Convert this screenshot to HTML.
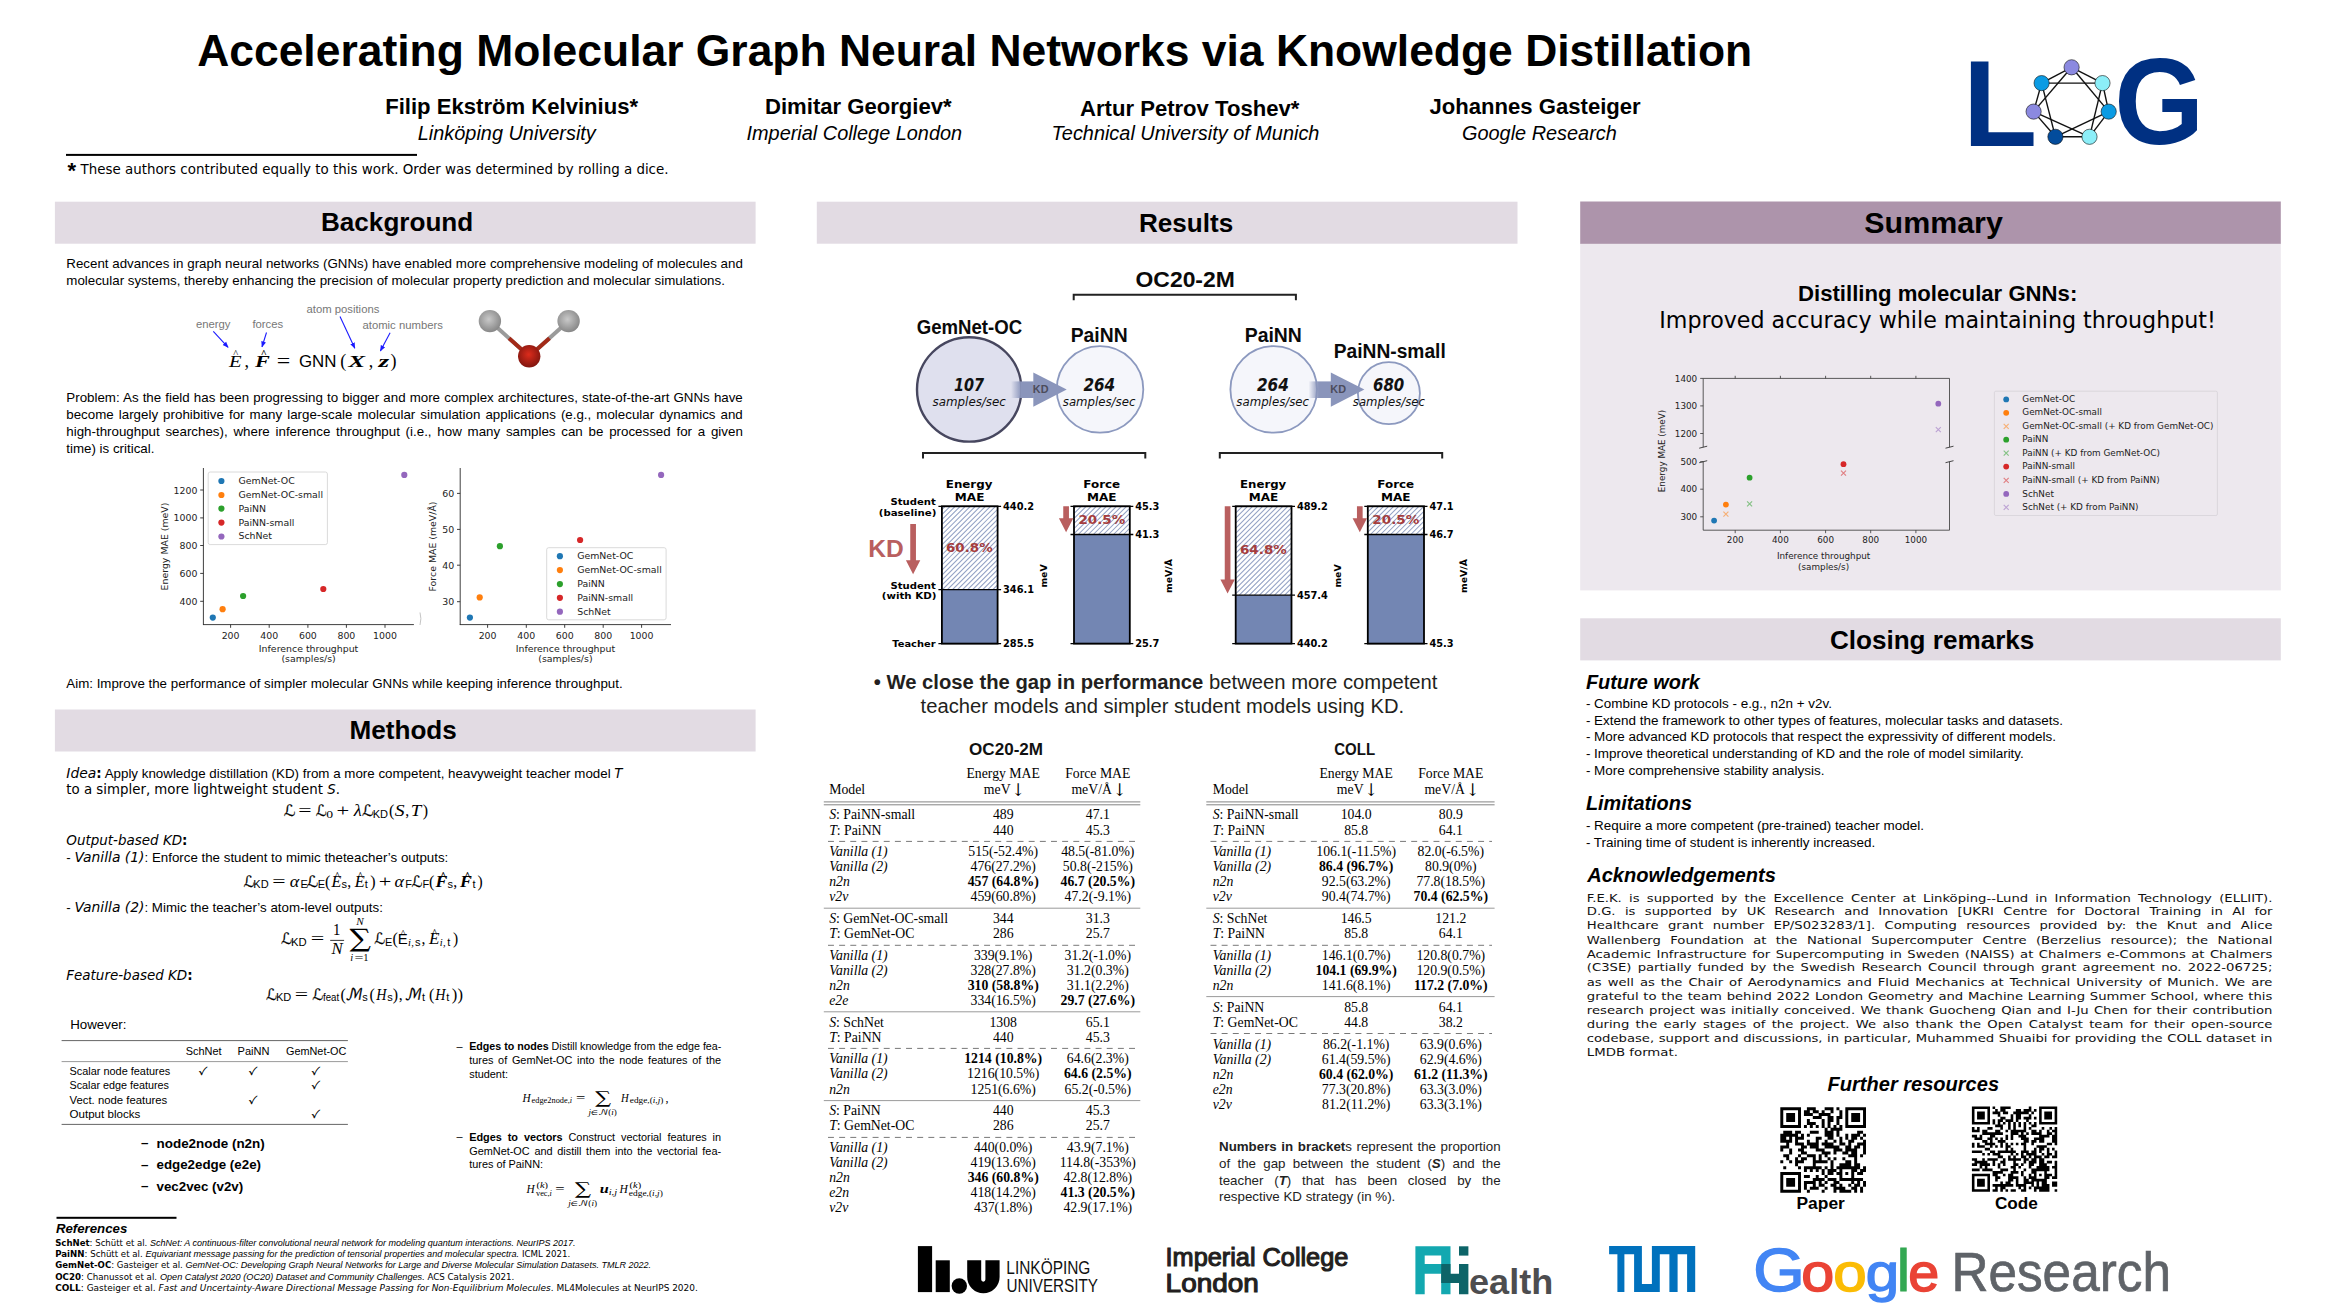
<!DOCTYPE html>
<html lang="en"><head><meta charset="utf-8"><title>Accelerating Molecular Graph Neural Networks via Knowledge Distillation</title>
<style>html,body{margin:0;padding:0;background:#fff}svg{display:block}text{white-space:pre}</style></head>
<body><svg width="2331" height="1311" viewBox="0 0 2331 1311">
<text x="197.20" y="65.60" font-size="44.4" font-family="'Liberation Sans', sans-serif" font-weight="bold" textLength="1555.00" lengthAdjust="spacingAndGlyphs" >Accelerating Molecular Graph Neural Networks via Knowledge Distillation</text>
<text x="385.20" y="113.70" font-size="22.1" font-family="'Liberation Sans', sans-serif" font-weight="bold" >Filip Ekström Kelvinius*</text>
<text x="417.80" y="139.80" font-size="19.9" font-family="'Liberation Sans', sans-serif" font-style="italic" >Linköping University</text>
<text x="765.00" y="113.70" font-size="22.1" font-family="'Liberation Sans', sans-serif" font-weight="bold" >Dimitar Georgiev*</text>
<text x="746.50" y="139.80" font-size="19.9" font-family="'Liberation Sans', sans-serif" font-style="italic" >Imperial College London</text>
<text x="1080.00" y="115.70" font-size="22.1" font-family="'Liberation Sans', sans-serif" font-weight="bold" >Artur Petrov Toshev*</text>
<text x="1051.50" y="139.80" font-size="19.9" font-family="'Liberation Sans', sans-serif" font-style="italic" >Technical University of Munich</text>
<text x="1429.50" y="113.70" font-size="22.1" font-family="'Liberation Sans', sans-serif" font-weight="bold" >Johannes Gasteiger</text>
<text x="1462.00" y="139.80" font-size="19.9" font-family="'Liberation Sans', sans-serif" font-style="italic" >Google Research</text>
<rect x="66.00" y="153.90" width="351.00" height="2.00" fill="#000" />
<text x="67.50" y="178.00" font-size="22" font-family="'Liberation Sans', sans-serif" font-weight="bold" >*</text>
<text x="80.50" y="174.40" font-size="13.38" font-family="'DejaVu Sans', sans-serif" textLength="588.00" lengthAdjust="spacingAndGlyphs" >These authors contributed equally to this work. Order was determined by rolling a dice.</text>
<text x="1962.84" y="145.90" font-size="121.5" font-family="'Liberation Sans', sans-serif" font-weight="bold" fill="#003082" textLength="74.51" lengthAdjust="spacingAndGlyphs" >L</text>
<text x="2114.26" y="144.20" font-size="122.5" font-family="'Liberation Sans', sans-serif" font-weight="bold" fill="#003082" textLength="89.91" lengthAdjust="spacingAndGlyphs" >G</text>
<line x1="2071.60" y1="67.30" x2="2102.50" y2="83.10" stroke="#111" stroke-width="1.4" />
<line x1="2071.60" y1="67.30" x2="2108.70" y2="111.60" stroke="#111" stroke-width="1.4" />
<line x1="2102.50" y1="83.10" x2="2108.70" y2="111.60" stroke="#111" stroke-width="1.4" />
<line x1="2102.50" y1="83.10" x2="2089.50" y2="136.80" stroke="#111" stroke-width="1.4" />
<line x1="2108.70" y1="111.60" x2="2089.50" y2="136.80" stroke="#111" stroke-width="1.4" />
<line x1="2108.70" y1="111.60" x2="2055.40" y2="136.80" stroke="#111" stroke-width="1.4" />
<line x1="2089.50" y1="136.80" x2="2055.40" y2="136.80" stroke="#111" stroke-width="1.4" />
<line x1="2089.50" y1="136.80" x2="2033.60" y2="111.60" stroke="#111" stroke-width="1.4" />
<line x1="2055.40" y1="136.80" x2="2033.60" y2="111.60" stroke="#111" stroke-width="1.4" />
<line x1="2055.40" y1="136.80" x2="2041.60" y2="83.10" stroke="#111" stroke-width="1.4" />
<line x1="2033.60" y1="111.60" x2="2041.60" y2="83.10" stroke="#111" stroke-width="1.4" />
<line x1="2033.60" y1="111.60" x2="2071.60" y2="67.30" stroke="#111" stroke-width="1.4" />
<line x1="2041.60" y1="83.10" x2="2071.60" y2="67.30" stroke="#111" stroke-width="1.4" />
<line x1="2041.60" y1="83.10" x2="2102.50" y2="83.10" stroke="#111" stroke-width="1.4" />
<circle cx="2071.60" cy="67.30" r="7.60" fill="#8b89e0" stroke="#111" stroke-width="0.6"/>
<circle cx="2102.50" cy="83.10" r="7.60" fill="#8ceef8" stroke="#111" stroke-width="0.6"/>
<circle cx="2108.70" cy="111.60" r="7.60" fill="#0b9be3" stroke="#111" stroke-width="0.6"/>
<circle cx="2089.50" cy="136.80" r="7.60" fill="#8ceef8" stroke="#111" stroke-width="0.6"/>
<circle cx="2055.40" cy="136.80" r="7.60" fill="#034c9c" stroke="#111" stroke-width="0.6"/>
<circle cx="2033.60" cy="111.60" r="7.60" fill="#8b89e0" stroke="#111" stroke-width="0.6"/>
<circle cx="2041.60" cy="83.10" r="7.60" fill="#0b9be3" stroke="#111" stroke-width="0.6"/>
<rect x="54.90" y="201.70" width="700.70" height="42.00" fill="#e2dbe3" />
<text x="321.00" y="230.60" font-size="26.1" font-family="'Liberation Sans', sans-serif" font-weight="bold" >Background</text>
<rect x="54.90" y="709.50" width="700.70" height="42.00" fill="#e2dbe3" />
<text x="349.50" y="738.70" font-size="26.1" font-family="'Liberation Sans', sans-serif" font-weight="bold" >Methods</text>
<rect x="816.80" y="201.70" width="700.70" height="42.00" fill="#e2dbe3" />
<text x="1139.00" y="232.20" font-size="26.1" font-family="'Liberation Sans', sans-serif" font-weight="bold" >Results</text>
<rect x="1580.20" y="243.00" width="700.60" height="347.40" fill="#ede8ee" />
<rect x="1580.20" y="201.50" width="700.60" height="42.30" fill="#ad94ab" />
<text x="1864.30" y="233.20" font-size="30.4" font-family="'Liberation Sans', sans-serif" font-weight="bold" >Summary</text>
<rect x="1580.20" y="618.30" width="700.60" height="42.10" fill="#e2dbe3" />
<text x="1829.90" y="648.70" font-size="26.1" font-family="'Liberation Sans', sans-serif" font-weight="bold" >Closing remarks</text>
<text x="66.30" y="267.80" font-size="13.33" font-family="'Liberation Sans', sans-serif" word-spacing="0.060">Recent advances in graph neural networks (GNNs) have enabled more comprehensive modeling of molecules and</text>
<text x="66.30" y="284.60" font-size="13.33" font-family="'Liberation Sans', sans-serif" >molecular systems, thereby enhancing the precision of molecular property prediction and molecular simulations.</text>
<text x="195.90" y="328.00" font-size="11.3" font-family="'Liberation Sans', sans-serif" fill="#777" >energy</text>
<text x="252.40" y="328.00" font-size="11.3" font-family="'Liberation Sans', sans-serif" fill="#777" >forces</text>
<text x="306.50" y="312.50" font-size="11.3" font-family="'Liberation Sans', sans-serif" fill="#777" >atom positions</text>
<text x="362.50" y="328.70" font-size="11.3" font-family="'Liberation Sans', sans-serif" fill="#777" >atomic numbers</text>
<defs><marker id="ab" viewBox="0 0 10 10" refX="9" refY="5" markerWidth="5.5" markerHeight="5.5" orient="auto"><path d="M0,1 L10,5 L0,9 z" fill="#1a1aff"/></marker><radialGradient id="gH" cx="45%" cy="42%" r="60%"><stop offset="0" stop-color="#c9c9c9"/><stop offset="1" stop-color="#858585"/></radialGradient><radialGradient id="gO" cx="48%" cy="42%" r="60%"><stop offset="0" stop-color="#dc2c1c"/><stop offset="1" stop-color="#7d150e"/></radialGradient></defs>
<line x1="213.30" y1="331.40" x2="228.10" y2="347.30" stroke="#1a1aff" stroke-width="1.1" marker-end="url(#ab)"/>
<line x1="266.50" y1="332.50" x2="262.00" y2="346.90" stroke="#1a1aff" stroke-width="1.1" marker-end="url(#ab)"/>
<line x1="340.00" y1="316.60" x2="354.80" y2="348.20" stroke="#1a1aff" stroke-width="1.1" marker-end="url(#ab)"/>
<line x1="390.10" y1="332.80" x2="380.40" y2="350.90" stroke="#1a1aff" stroke-width="1.1" marker-end="url(#ab)"/>
<text x="229.04" y="367.10" font-size="16.3" font-family="'Liberation Serif', serif" font-style="italic" textLength="12.59" lengthAdjust="spacingAndGlyphs" >E</text>
<text x="244.50" y="367.10" font-size="18" font-family="'Liberation Serif', serif" >,</text>
<text x="235.60" y="356.80" font-size="10.5" font-family="'Liberation Serif', serif" text-anchor="middle" >^</text>
<text x="255.02" y="367.10" font-size="16.3" font-family="'Liberation Serif', serif" font-weight="bold" font-style="italic" textLength="14.85" lengthAdjust="spacingAndGlyphs" >F</text>
<text x="263.80" y="356.80" font-size="10.5" font-family="'Liberation Serif', serif" font-weight="bold" text-anchor="middle" >^</text>
<text x="276.80" y="367.50" font-size="20" font-family="'Liberation Serif', serif" textLength="13.50" lengthAdjust="spacingAndGlyphs" >=</text>
<text x="298.90" y="367.10" font-size="16.2" font-family="'Liberation Sans', sans-serif" textLength="37.50" lengthAdjust="spacingAndGlyphs" >GNN</text>
<text x="340.20" y="367.10" font-size="18" font-family="'Liberation Serif', serif" >(</text>
<text x="348.24" y="367.10" font-size="16.3" font-family="'Liberation Serif', serif" font-weight="bold" font-style="italic" textLength="16.84" lengthAdjust="spacingAndGlyphs" >X</text>
<text x="368.80" y="367.10" font-size="18" font-family="'Liberation Serif', serif" >,</text>
<text x="378.47" y="367.10" font-size="16.3" font-family="'Liberation Serif', serif" font-weight="bold" font-style="italic" textLength="10.63" lengthAdjust="spacingAndGlyphs" >z</text>
<text x="390.40" y="367.10" font-size="18" font-family="'Liberation Serif', serif" >)</text>
<line x1="489.90" y1="321.10" x2="529.20" y2="356.30" stroke="#9a9a9a" stroke-width="4" />
<line x1="568.60" y1="321.10" x2="529.20" y2="356.30" stroke="#9a9a9a" stroke-width="4" />
<line x1="509.00" y1="338.20" x2="529.20" y2="356.30" stroke="#a32a18" stroke-width="4" />
<line x1="549.50" y1="338.20" x2="529.20" y2="356.30" stroke="#a32a18" stroke-width="4" />
<circle cx="489.90" cy="321.10" r="11.20" fill="url(#gH)" />
<circle cx="568.60" cy="321.10" r="11.20" fill="url(#gH)" />
<circle cx="529.20" cy="356.30" r="11.20" fill="url(#gO)" />
<text x="66.30" y="402.00" font-size="13.33" font-family="'Liberation Sans', sans-serif" word-spacing="0.403">Problem: As the field has been progressing to bigger and more complex architectures, state-of-the-art GNNs have</text>
<text x="66.30" y="418.80" font-size="13.33" font-family="'Liberation Sans', sans-serif" word-spacing="1.370">become largely prohibitive for many large-scale molecular simulation applications (e.g., molecular dynamics and</text>
<text x="66.30" y="435.60" font-size="13.33" font-family="'Liberation Sans', sans-serif" word-spacing="2.070">high-throughput searches), where inference throughput (i.e., how many samples can be processed for a given</text>
<text x="66.30" y="453.20" font-size="13.33" font-family="'Liberation Sans', sans-serif" >time) is critical.</text>
<text x="66.30" y="687.70" font-size="13.33" font-family="'Liberation Sans', sans-serif" >Aim: Improve the performance of simpler molecular GNNs while keeping inference throughput.</text>
<line x1="203.40" y1="468.00" x2="203.40" y2="625.00" stroke="#2a2a2a" stroke-width="0.9" />
<line x1="203.00" y1="624.60" x2="413.90" y2="624.60" stroke="#2a2a2a" stroke-width="0.9" />
<line x1="230.60" y1="624.60" x2="230.60" y2="627.80" stroke="#2a2a2a" stroke-width="0.9" />
<text x="230.60" y="639.00" font-size="9.4" font-family="'DejaVu Sans', sans-serif" fill="#222" text-anchor="middle" >200</text>
<line x1="269.20" y1="624.60" x2="269.20" y2="627.80" stroke="#2a2a2a" stroke-width="0.9" />
<text x="269.20" y="639.00" font-size="9.4" font-family="'DejaVu Sans', sans-serif" fill="#222" text-anchor="middle" >400</text>
<line x1="307.90" y1="624.60" x2="307.90" y2="627.80" stroke="#2a2a2a" stroke-width="0.9" />
<text x="307.90" y="639.00" font-size="9.4" font-family="'DejaVu Sans', sans-serif" fill="#222" text-anchor="middle" >600</text>
<line x1="346.40" y1="624.60" x2="346.40" y2="627.80" stroke="#2a2a2a" stroke-width="0.9" />
<text x="346.40" y="639.00" font-size="9.4" font-family="'DejaVu Sans', sans-serif" fill="#222" text-anchor="middle" >800</text>
<line x1="385.00" y1="624.60" x2="385.00" y2="627.80" stroke="#2a2a2a" stroke-width="0.9" />
<text x="385.00" y="639.00" font-size="9.4" font-family="'DejaVu Sans', sans-serif" fill="#222" text-anchor="middle" >1000</text>
<line x1="200.20" y1="490.00" x2="203.40" y2="490.00" stroke="#2a2a2a" stroke-width="0.9" />
<text x="197.40" y="493.50" font-size="9.4" font-family="'DejaVu Sans', sans-serif" fill="#222" text-anchor="end" >1200</text>
<line x1="200.20" y1="517.90" x2="203.40" y2="517.90" stroke="#2a2a2a" stroke-width="0.9" />
<text x="197.40" y="521.40" font-size="9.4" font-family="'DejaVu Sans', sans-serif" fill="#222" text-anchor="end" >1000</text>
<line x1="200.20" y1="545.50" x2="203.40" y2="545.50" stroke="#2a2a2a" stroke-width="0.9" />
<text x="197.40" y="549.00" font-size="9.4" font-family="'DejaVu Sans', sans-serif" fill="#222" text-anchor="end" >800</text>
<line x1="200.20" y1="573.40" x2="203.40" y2="573.40" stroke="#2a2a2a" stroke-width="0.9" />
<text x="197.40" y="576.90" font-size="9.4" font-family="'DejaVu Sans', sans-serif" fill="#222" text-anchor="end" >600</text>
<line x1="200.20" y1="601.30" x2="203.40" y2="601.30" stroke="#2a2a2a" stroke-width="0.9" />
<text x="197.40" y="604.80" font-size="9.4" font-family="'DejaVu Sans', sans-serif" fill="#222" text-anchor="end" >400</text>
<text x="308.60" y="651.80" font-size="9.4" font-family="'DejaVu Sans', sans-serif" fill="#222" text-anchor="middle" >Inference throughput</text>
<text x="308.60" y="662.00" font-size="9.4" font-family="'DejaVu Sans', sans-serif" fill="#222" text-anchor="middle" >(samples/s)</text>
<text transform="translate(167.5,546.5) rotate(-90)" text-anchor="middle" font-size="9.4" font-family="'DejaVu Sans', sans-serif" fill="#222">Energy MAE (meV)</text>
<circle cx="212.80" cy="617.60" r="3.10" fill="#1f77b4" />
<circle cx="222.60" cy="609.20" r="3.10" fill="#ff7f0e" />
<circle cx="243.10" cy="596.00" r="3.10" fill="#2ca02c" />
<circle cx="323.30" cy="589.00" r="3.10" fill="#d62728" />
<circle cx="404.30" cy="474.90" r="3.10" fill="#9467bd" />
<rect x="208.2" y="472" width="119.19999999999999" height="72.60000000000002" rx="2" fill="#fff" fill-opacity="0.8" stroke="#d0d0d0" stroke-width="0.8"/>
<circle cx="221.40" cy="481.00" r="3.10" fill="#1f77b4" />
<text x="238.50" y="483.90" font-size="9.4" font-family="'DejaVu Sans', sans-serif" fill="#222" >GemNet-OC</text>
<circle cx="221.40" cy="495.00" r="3.10" fill="#ff7f0e" />
<text x="238.50" y="497.90" font-size="9.4" font-family="'DejaVu Sans', sans-serif" fill="#222" >GemNet-OC-small</text>
<circle cx="221.40" cy="508.60" r="3.10" fill="#2ca02c" />
<text x="238.50" y="511.50" font-size="9.4" font-family="'DejaVu Sans', sans-serif" fill="#222" >PaiNN</text>
<circle cx="221.40" cy="522.60" r="3.10" fill="#d62728" />
<text x="238.50" y="525.50" font-size="9.4" font-family="'DejaVu Sans', sans-serif" fill="#222" >PaiNN-small</text>
<circle cx="221.40" cy="536.50" r="3.10" fill="#9467bd" />
<text x="238.50" y="539.40" font-size="9.4" font-family="'DejaVu Sans', sans-serif" fill="#222" >SchNet</text>
<line x1="460.20" y1="468.00" x2="460.20" y2="625.00" stroke="#2a2a2a" stroke-width="0.9" />
<line x1="459.80" y1="624.60" x2="671.00" y2="624.60" stroke="#2a2a2a" stroke-width="0.9" />
<line x1="487.60" y1="624.60" x2="487.60" y2="627.80" stroke="#2a2a2a" stroke-width="0.9" />
<text x="487.60" y="639.00" font-size="9.4" font-family="'DejaVu Sans', sans-serif" fill="#222" text-anchor="middle" >200</text>
<line x1="526.30" y1="624.60" x2="526.30" y2="627.80" stroke="#2a2a2a" stroke-width="0.9" />
<text x="526.30" y="639.00" font-size="9.4" font-family="'DejaVu Sans', sans-serif" fill="#222" text-anchor="middle" >400</text>
<line x1="564.70" y1="624.60" x2="564.70" y2="627.80" stroke="#2a2a2a" stroke-width="0.9" />
<text x="564.70" y="639.00" font-size="9.4" font-family="'DejaVu Sans', sans-serif" fill="#222" text-anchor="middle" >600</text>
<line x1="603.20" y1="624.60" x2="603.20" y2="627.80" stroke="#2a2a2a" stroke-width="0.9" />
<text x="603.20" y="639.00" font-size="9.4" font-family="'DejaVu Sans', sans-serif" fill="#222" text-anchor="middle" >800</text>
<line x1="641.60" y1="624.60" x2="641.60" y2="627.80" stroke="#2a2a2a" stroke-width="0.9" />
<text x="641.60" y="639.00" font-size="9.4" font-family="'DejaVu Sans', sans-serif" fill="#222" text-anchor="middle" >1000</text>
<line x1="457.00" y1="493.40" x2="460.20" y2="493.40" stroke="#2a2a2a" stroke-width="0.9" />
<text x="454.20" y="496.90" font-size="9.4" font-family="'DejaVu Sans', sans-serif" fill="#222" text-anchor="end" >60</text>
<line x1="457.00" y1="529.40" x2="460.20" y2="529.40" stroke="#2a2a2a" stroke-width="0.9" />
<text x="454.20" y="532.90" font-size="9.4" font-family="'DejaVu Sans', sans-serif" fill="#222" text-anchor="end" >50</text>
<line x1="457.00" y1="565.20" x2="460.20" y2="565.20" stroke="#2a2a2a" stroke-width="0.9" />
<text x="454.20" y="568.70" font-size="9.4" font-family="'DejaVu Sans', sans-serif" fill="#222" text-anchor="end" >40</text>
<line x1="457.00" y1="601.70" x2="460.20" y2="601.70" stroke="#2a2a2a" stroke-width="0.9" />
<text x="454.20" y="605.20" font-size="9.4" font-family="'DejaVu Sans', sans-serif" fill="#222" text-anchor="end" >30</text>
<text x="565.40" y="651.80" font-size="9.4" font-family="'DejaVu Sans', sans-serif" fill="#222" text-anchor="middle" >Inference throughput</text>
<text x="565.40" y="662.00" font-size="9.4" font-family="'DejaVu Sans', sans-serif" fill="#222" text-anchor="middle" >(samples/s)</text>
<text transform="translate(436,546.5) rotate(-90)" text-anchor="middle" font-size="9.4" font-family="'DejaVu Sans', sans-serif" fill="#222">Force MAE (meV/Å)</text>
<circle cx="469.90" cy="617.60" r="3.10" fill="#1f77b4" />
<circle cx="479.70" cy="597.40" r="3.10" fill="#ff7f0e" />
<circle cx="499.90" cy="546.20" r="3.10" fill="#2ca02c" />
<circle cx="580.10" cy="540.00" r="3.10" fill="#d62728" />
<circle cx="661.10" cy="474.90" r="3.10" fill="#9467bd" />
<rect x="546.7" y="547.7" width="119.39999999999998" height="72.09999999999991" rx="2" fill="#fff" fill-opacity="0.8" stroke="#d0d0d0" stroke-width="0.8"/>
<circle cx="559.90" cy="556.20" r="3.10" fill="#1f77b4" />
<text x="577.20" y="559.10" font-size="9.4" font-family="'DejaVu Sans', sans-serif" fill="#222" >GemNet-OC</text>
<circle cx="559.90" cy="570.10" r="3.10" fill="#ff7f0e" />
<text x="577.20" y="573.00" font-size="9.4" font-family="'DejaVu Sans', sans-serif" fill="#222" >GemNet-OC-small</text>
<circle cx="559.90" cy="584.10" r="3.10" fill="#2ca02c" />
<text x="577.20" y="587.00" font-size="9.4" font-family="'DejaVu Sans', sans-serif" fill="#222" >PaiNN</text>
<circle cx="559.90" cy="597.80" r="3.10" fill="#d62728" />
<text x="577.20" y="600.70" font-size="9.4" font-family="'DejaVu Sans', sans-serif" fill="#222" >PaiNN-small</text>
<circle cx="559.90" cy="611.70" r="3.10" fill="#9467bd" />
<text x="577.20" y="614.60" font-size="9.4" font-family="'DejaVu Sans', sans-serif" fill="#222" >SchNet</text>
<path d="M420,612.5 Q421.8,618.5 420,625" fill="none" stroke="#aaa" stroke-width="0.7"/>
<text x="66.30" y="777.60" font-size="13.33" textLength="556.20" lengthAdjust="spacingAndGlyphs" xml:space="preserve" ><tspan font-family="'DejaVu Sans', sans-serif" font-style="italic" font-size="13.9">Idea</tspan><tspan font-family="'DejaVu Sans', sans-serif" font-weight="bold">:</tspan><tspan font-family="'Liberation Sans', sans-serif"> Apply knowledge distillation (KD) from a more competent, heavyweight teacher model </tspan><tspan font-family="'DejaVu Sans', sans-serif" font-style="italic">T</tspan></text>
<text x="66.30" y="794.30" font-size="13.35" xml:space="preserve" ><tspan font-family="'DejaVu Sans', sans-serif">to a simpler, more lightweight student </tspan><tspan font-family="'DejaVu Sans', sans-serif" font-style="italic">S</tspan><tspan font-family="'DejaVu Sans', sans-serif">.</tspan></text>
<text x="283.86" y="815.85" font-size="15.8" font-family="'DejaVu Sans', sans-serif" font-style="italic" textLength="11.72" lengthAdjust="spacingAndGlyphs" stroke="#000" stroke-width="0.2">ℒ</text>
<text x="298.32" y="815.85" font-size="17" font-family="'Liberation Serif', serif" textLength="13.33" lengthAdjust="spacingAndGlyphs" >=</text>
<text x="315.80" y="815.85" font-size="15.8" font-family="'DejaVu Sans', sans-serif" font-style="italic" textLength="10.93" lengthAdjust="spacingAndGlyphs" stroke="#000" stroke-width="0.2">ℒ</text>
<text x="326.18" y="817.65" font-size="11" font-family="'Liberation Serif', serif" textLength="6.84" lengthAdjust="spacingAndGlyphs" >0</text>
<text x="336.58" y="815.85" font-size="17" font-family="'Liberation Serif', serif" textLength="12.73" lengthAdjust="spacingAndGlyphs" >+</text>
<text x="353.86" y="815.85" font-size="17" font-family="'Liberation Serif', serif" font-style="italic" textLength="8.11" lengthAdjust="spacingAndGlyphs" >λ</text>
<text x="362.07" y="815.85" font-size="15.8" font-family="'DejaVu Sans', sans-serif" font-style="italic" textLength="11.60" lengthAdjust="spacingAndGlyphs" stroke="#000" stroke-width="0.2">ℒ</text>
<text x="372.69" y="817.65" font-size="10.4" font-family="'Liberation Sans', sans-serif" textLength="15.33" lengthAdjust="spacingAndGlyphs" >KD</text>
<text x="389.10" y="815.85" font-size="15.8" font-family="'Liberation Serif', serif" textLength="5.32" lengthAdjust="spacingAndGlyphs" >(</text>
<text x="394.77" y="815.85" font-size="15.8" font-family="'Liberation Serif', serif" font-style="italic" textLength="9.85" lengthAdjust="spacingAndGlyphs" >S</text>
<text x="405.20" y="815.85" font-size="15.8" font-family="'Liberation Serif', serif" >,</text>
<text x="410.66" y="815.85" font-size="15.8" font-family="'Liberation Serif', serif" font-style="italic" textLength="10.52" lengthAdjust="spacingAndGlyphs" >T</text>
<text x="422.89" y="815.85" font-size="15.8" font-family="'Liberation Serif', serif" textLength="5.32" lengthAdjust="spacingAndGlyphs" >)</text>
<text x="66.30" y="845.10" font-size="13.47" xml:space="preserve" ><tspan font-family="'DejaVu Sans', sans-serif" font-style="italic">Output-based KD</tspan><tspan font-family="'DejaVu Sans', sans-serif" font-weight="bold">:</tspan></text>
<text x="66.30" y="861.90" font-size="13.33" textLength="382.00" lengthAdjust="spacingAndGlyphs" xml:space="preserve" ><tspan font-family="'Liberation Sans', sans-serif">- </tspan><tspan font-family="'DejaVu Sans', sans-serif" font-style="italic" font-size="13.9">Vanilla (1)</tspan><tspan font-family="'Liberation Sans', sans-serif">: Enforce the student to mimic theteacher’s outputs:</tspan></text>
<text x="243.40" y="886.50" font-size="15.8" font-family="'DejaVu Sans', sans-serif" font-style="italic" textLength="10.93" lengthAdjust="spacingAndGlyphs" stroke="#000" stroke-width="0.2">ℒ</text>
<text x="253.39" y="888.30" font-size="10.4" font-family="'Liberation Sans', sans-serif" textLength="15.33" lengthAdjust="spacingAndGlyphs" >KD</text>
<text x="272.22" y="886.50" font-size="17" font-family="'Liberation Serif', serif" textLength="13.33" lengthAdjust="spacingAndGlyphs" >=</text>
<text x="289.66" y="886.50" font-size="17" font-family="'Liberation Serif', serif" font-style="italic" textLength="9.54" lengthAdjust="spacingAndGlyphs" >α</text>
<text x="300.40" y="888.30" font-size="11.0" font-family="'Liberation Sans', sans-serif" >E</text>
<text x="306.46" y="886.50" font-size="15.8" font-family="'DejaVu Sans', sans-serif" font-style="italic" textLength="11.72" lengthAdjust="spacingAndGlyphs" stroke="#000" stroke-width="0.2">ℒ</text>
<text x="317.70" y="888.30" font-size="11.0" font-family="'Liberation Sans', sans-serif" >E</text>
<text x="324.90" y="886.50" font-size="15.8" font-family="'Liberation Serif', serif" textLength="5.32" lengthAdjust="spacingAndGlyphs" >(</text>
<text x="331.59" y="886.50" font-size="15.8" font-family="'Liberation Serif', serif" font-style="italic" textLength="9.87" lengthAdjust="spacingAndGlyphs" >E</text>
<text x="341.50" y="888.30" font-size="11.0" font-family="'Liberation Sans', sans-serif" >s</text>
<text x="347.30" y="886.50" font-size="15.8" font-family="'Liberation Serif', serif" >,</text>
<text x="354.69" y="886.50" font-size="15.8" font-family="'Liberation Serif', serif" font-style="italic" textLength="9.97" lengthAdjust="spacingAndGlyphs" >E</text>
<text x="364.70" y="888.30" font-size="11.0" font-family="'Liberation Sans', sans-serif" >t</text>
<text x="370.19" y="886.50" font-size="15.8" font-family="'Liberation Serif', serif" textLength="5.32" lengthAdjust="spacingAndGlyphs" >)</text>
<text x="378.89" y="886.50" font-size="17" font-family="'Liberation Serif', serif" textLength="12.60" lengthAdjust="spacingAndGlyphs" >+</text>
<text x="394.56" y="886.50" font-size="17" font-family="'Liberation Serif', serif" font-style="italic" textLength="9.44" lengthAdjust="spacingAndGlyphs" >α</text>
<text x="405.20" y="888.30" font-size="11.0" font-family="'Liberation Sans', sans-serif" >F</text>
<text x="411.40" y="886.50" font-size="15.8" font-family="'DejaVu Sans', sans-serif" font-style="italic" textLength="10.93" lengthAdjust="spacingAndGlyphs" stroke="#000" stroke-width="0.2">ℒ</text>
<text x="422.60" y="888.30" font-size="11.0" font-family="'Liberation Sans', sans-serif" >F</text>
<text x="429.10" y="886.50" font-size="15.8" font-family="'Liberation Serif', serif" textLength="5.32" lengthAdjust="spacingAndGlyphs" >(</text>
<text x="435.62" y="886.50" font-size="15.8" font-family="'Liberation Serif', serif" font-weight="bold" font-style="italic" textLength="11.88" lengthAdjust="spacingAndGlyphs" >F</text>
<text x="447.50" y="888.30" font-size="11.0" font-family="'Liberation Sans', sans-serif" >s</text>
<text x="453.30" y="886.50" font-size="15.8" font-family="'Liberation Serif', serif" >,</text>
<text x="459.92" y="886.50" font-size="15.8" font-family="'Liberation Serif', serif" font-weight="bold" font-style="italic" textLength="11.88" lengthAdjust="spacingAndGlyphs" >F</text>
<text x="472.40" y="888.30" font-size="11.0" font-family="'Liberation Sans', sans-serif" >t</text>
<text x="477.40" y="886.50" font-size="15.8" font-family="'Liberation Serif', serif" textLength="5.19" lengthAdjust="spacingAndGlyphs" >)</text>
<text x="337.30" y="879.54" font-size="12" font-family="'Liberation Serif', serif" text-anchor="middle" >^</text>
<text x="360.40" y="879.54" font-size="12" font-family="'Liberation Serif', serif" text-anchor="middle" >^</text>
<text x="443.20" y="879.54" font-size="12" font-family="'Liberation Serif', serif" font-weight="bold" text-anchor="middle" >^</text>
<text x="467.50" y="879.54" font-size="12" font-family="'Liberation Serif', serif" font-weight="bold" text-anchor="middle" >^</text>
<text x="66.30" y="912.10" font-size="13.33" textLength="316.60" lengthAdjust="spacingAndGlyphs" xml:space="preserve" ><tspan font-family="'Liberation Sans', sans-serif">- </tspan><tspan font-family="'DejaVu Sans', sans-serif" font-style="italic" font-size="13.9">Vanilla (2)</tspan><tspan font-family="'Liberation Sans', sans-serif">: Mimic the teacher’s atom-level outputs:</tspan></text>
<text x="280.99" y="944.00" font-size="15.8" font-family="'DejaVu Sans', sans-serif" font-style="italic" textLength="11.05" lengthAdjust="spacingAndGlyphs" stroke="#000" stroke-width="0.2">ℒ</text>
<text x="291.08" y="945.80" font-size="10.4" font-family="'Liberation Sans', sans-serif" textLength="15.66" lengthAdjust="spacingAndGlyphs" >KD</text>
<text x="310.80" y="944.00" font-size="17" font-family="'Liberation Serif', serif" textLength="13.57" lengthAdjust="spacingAndGlyphs" >=</text>
<text x="333.00" y="934.50" font-size="15.8" font-family="'Liberation Serif', serif" textLength="7.39" lengthAdjust="spacingAndGlyphs" >1</text>
<text x="331.52" y="954.20" font-size="15.8" font-family="'Liberation Serif', serif" font-style="italic" textLength="11.20" lengthAdjust="spacingAndGlyphs" >N</text>
<text x="356.38" y="924.60" font-size="10.5" font-family="'Liberation Serif', serif" font-style="italic" textLength="7.50" lengthAdjust="spacingAndGlyphs" >N</text>
<text x="350.30" y="961.40" font-size="10.5" font-family="'Liberation Serif', serif" font-style="italic" >i</text>
<text x="354.41" y="961.40" font-size="11" font-family="'Liberation Serif', serif" textLength="8.97" lengthAdjust="spacingAndGlyphs" >=</text>
<text x="363.30" y="961.40" font-size="10.5" font-family="'Liberation Serif', serif" >1</text>
<text x="374.30" y="944.00" font-size="15.8" font-family="'DejaVu Sans', sans-serif" font-style="italic" textLength="10.93" lengthAdjust="spacingAndGlyphs" stroke="#000" stroke-width="0.2">ℒ</text>
<text x="384.90" y="945.80" font-size="11.0" font-family="'Liberation Sans', sans-serif" >E</text>
<text x="392.60" y="944.00" font-size="15.8" font-family="'Liberation Serif', serif" textLength="5.32" lengthAdjust="spacingAndGlyphs" >(</text>
<text x="397.87" y="944.00" font-size="15" font-family="'Liberation Sans', sans-serif" textLength="9.97" lengthAdjust="spacingAndGlyphs" >E</text>
<text x="407.90" y="945.80" font-size="10.5" font-family="'Liberation Serif', serif" font-style="italic" >i</text>
<text x="411.30" y="945.80" font-size="10.5" font-family="'Liberation Serif', serif" >,</text>
<text x="414.90" y="945.80" font-size="11.0" font-family="'Liberation Sans', sans-serif" >s</text>
<text x="421.40" y="944.00" font-size="15.8" font-family="'Liberation Serif', serif" >,</text>
<text x="428.90" y="944.00" font-size="15.8" font-family="'Liberation Serif', serif" font-style="italic" textLength="10.48" lengthAdjust="spacingAndGlyphs" >E</text>
<text x="439.70" y="945.80" font-size="10.5" font-family="'Liberation Serif', serif" font-style="italic" >i</text>
<text x="443.10" y="945.80" font-size="10.5" font-family="'Liberation Serif', serif" >,</text>
<text x="447.20" y="945.80" font-size="11.0" font-family="'Liberation Sans', sans-serif" >t</text>
<text x="453.10" y="944.00" font-size="15.8" font-family="'Liberation Serif', serif" textLength="5.19" lengthAdjust="spacingAndGlyphs" >)</text>
<rect x="330.20" y="939.90" width="13.90" height="0.80" fill="#000" />
<text x="347.85" y="945.60" font-size="21.5" font-family="'DejaVu Math TeX Gyre', 'DejaVu Sans', 'DejaVu Serif', serif" textLength="24.89" lengthAdjust="spacingAndGlyphs" >∑</text>
<text x="403.20" y="936.68" font-size="11" font-family="'Liberation Serif', serif" text-anchor="middle" >^</text>
<text x="434.60" y="937.14" font-size="12" font-family="'Liberation Serif', serif" text-anchor="middle" >^</text>
<text x="66.30" y="980.10" font-size="13.47" xml:space="preserve" ><tspan font-family="'DejaVu Sans', sans-serif" font-style="italic">Feature-based KD</tspan><tspan font-family="'DejaVu Sans', sans-serif" font-weight="bold">:</tspan></text>
<text x="266.00" y="999.60" font-size="15.8" font-family="'DejaVu Sans', sans-serif" font-style="italic" textLength="10.93" lengthAdjust="spacingAndGlyphs" stroke="#000" stroke-width="0.2">ℒ</text>
<text x="275.99" y="1001.40" font-size="10.4" font-family="'Liberation Sans', sans-serif" textLength="15.33" lengthAdjust="spacingAndGlyphs" >KD</text>
<text x="294.82" y="999.60" font-size="17" font-family="'Liberation Serif', serif" textLength="13.33" lengthAdjust="spacingAndGlyphs" >=</text>
<text x="312.29" y="999.60" font-size="15.8" font-family="'DejaVu Sans', sans-serif" font-style="italic" textLength="11.05" lengthAdjust="spacingAndGlyphs" stroke="#000" stroke-width="0.2">ℒ</text>
<text x="323.06" y="1001.40" font-size="10.4" font-family="'Liberation Sans', sans-serif" textLength="16.11" lengthAdjust="spacingAndGlyphs" >feat</text>
<text x="340.50" y="999.60" font-size="15.8" font-family="'Liberation Serif', serif" textLength="5.32" lengthAdjust="spacingAndGlyphs" >(</text>
<text x="345.28" y="999.60" font-size="15.8" font-family="'DejaVu Math TeX Gyre', 'DejaVu Sans', 'DejaVu Serif', serif" textLength="17.85" lengthAdjust="spacingAndGlyphs" stroke="#000" stroke-width="0.2">ℳ</text>
<text x="362.30" y="1001.40" font-size="11.0" font-family="'Liberation Sans', sans-serif" >s</text>
<text x="369.50" y="999.60" font-size="15.8" font-family="'Liberation Serif', serif" textLength="5.32" lengthAdjust="spacingAndGlyphs" >(</text>
<text x="376.15" y="999.60" font-size="15.8" font-family="'Liberation Serif', serif" font-style="italic" textLength="10.21" lengthAdjust="spacingAndGlyphs" >H</text>
<text x="387.20" y="1001.40" font-size="11.0" font-family="'Liberation Sans', sans-serif" >s</text>
<text x="392.79" y="999.60" font-size="15.8" font-family="'Liberation Serif', serif" textLength="5.32" lengthAdjust="spacingAndGlyphs" >)</text>
<text x="398.80" y="999.60" font-size="15.8" font-family="'Liberation Serif', serif" >,</text>
<text x="404.38" y="999.60" font-size="15.8" font-family="'DejaVu Math TeX Gyre', 'DejaVu Sans', 'DejaVu Serif', serif" textLength="17.85" lengthAdjust="spacingAndGlyphs" stroke="#000" stroke-width="0.2">ℳ</text>
<text x="422.00" y="1001.40" font-size="11.0" font-family="'Liberation Sans', sans-serif" >t</text>
<text x="429.10" y="999.60" font-size="15.8" font-family="'Liberation Serif', serif" textLength="5.32" lengthAdjust="spacingAndGlyphs" >(</text>
<text x="435.15" y="999.60" font-size="15.8" font-family="'Liberation Serif', serif" font-style="italic" textLength="10.21" lengthAdjust="spacingAndGlyphs" >H</text>
<text x="446.30" y="1001.40" font-size="11.0" font-family="'Liberation Sans', sans-serif" >t</text>
<text x="451.86" y="999.60" font-size="15.8" font-family="'Liberation Serif', serif" textLength="11.07" lengthAdjust="spacingAndGlyphs" >))</text>
<text x="70.20" y="1029.20" font-size="13.33" font-family="'Liberation Sans', sans-serif" >However:</text>
<line x1="61.60" y1="1040.60" x2="347.90" y2="1040.60" stroke="#555" stroke-width="0.9" />
<line x1="61.60" y1="1061.60" x2="347.90" y2="1061.60" stroke="#555" stroke-width="0.6" />
<line x1="61.60" y1="1124.40" x2="347.90" y2="1124.40" stroke="#555" stroke-width="0.9" />
<text x="185.70" y="1054.60" font-size="10.9" font-family="'Liberation Sans', sans-serif" textLength="35.90" lengthAdjust="spacingAndGlyphs" >SchNet</text>
<text x="237.50" y="1054.60" font-size="10.9" font-family="'Liberation Sans', sans-serif" textLength="32.00" lengthAdjust="spacingAndGlyphs" >PaiNN</text>
<text x="286.00" y="1054.60" font-size="10.9" font-family="'Liberation Sans', sans-serif" textLength="60.30" lengthAdjust="spacingAndGlyphs" >GemNet-OC</text>
<text x="69.50" y="1074.90" font-size="10.9" font-family="'Liberation Sans', sans-serif" textLength="100.70" lengthAdjust="spacingAndGlyphs" >Scalar node features</text>
<text x="69.50" y="1089.20" font-size="10.9" font-family="'Liberation Sans', sans-serif" textLength="99.50" lengthAdjust="spacingAndGlyphs" >Scalar edge features</text>
<text x="69.50" y="1103.50" font-size="10.9" font-family="'Liberation Sans', sans-serif" textLength="97.80" lengthAdjust="spacingAndGlyphs" >Vect. node features</text>
<text x="69.50" y="1117.50" font-size="10.9" font-family="'Liberation Sans', sans-serif" textLength="70.80" lengthAdjust="spacingAndGlyphs" >Output blocks</text>
<text x="203.20" y="1074.90" font-size="11.5" font-family="'DejaVu Math TeX Gyre', 'DejaVu Sans', 'DejaVu Serif', serif" text-anchor="middle" stroke="#000" stroke-width="0.3">✓</text>
<text x="253.30" y="1074.90" font-size="11.5" font-family="'DejaVu Math TeX Gyre', 'DejaVu Sans', 'DejaVu Serif', serif" text-anchor="middle" stroke="#000" stroke-width="0.3">✓</text>
<text x="315.90" y="1074.90" font-size="11.5" font-family="'DejaVu Math TeX Gyre', 'DejaVu Sans', 'DejaVu Serif', serif" text-anchor="middle" stroke="#000" stroke-width="0.3">✓</text>
<text x="315.90" y="1089.20" font-size="11.5" font-family="'DejaVu Math TeX Gyre', 'DejaVu Sans', 'DejaVu Serif', serif" text-anchor="middle" stroke="#000" stroke-width="0.3">✓</text>
<text x="253.30" y="1103.50" font-size="11.5" font-family="'DejaVu Math TeX Gyre', 'DejaVu Sans', 'DejaVu Serif', serif" text-anchor="middle" stroke="#000" stroke-width="0.3">✓</text>
<text x="315.90" y="1117.50" font-size="11.5" font-family="'DejaVu Math TeX Gyre', 'DejaVu Sans', 'DejaVu Serif', serif" text-anchor="middle" stroke="#000" stroke-width="0.3">✓</text>
<text x="141.00" y="1147.30" font-size="13.4" font-family="'Liberation Sans', sans-serif" font-weight="bold" >–</text>
<text x="156.50" y="1147.60" font-size="13.4" font-family="'Liberation Sans', sans-serif" font-weight="bold" textLength="108.30" lengthAdjust="spacingAndGlyphs" >node2node (n2n)</text>
<text x="141.00" y="1168.60" font-size="13.4" font-family="'Liberation Sans', sans-serif" font-weight="bold" >–</text>
<text x="156.50" y="1168.90" font-size="13.4" font-family="'Liberation Sans', sans-serif" font-weight="bold" textLength="104.50" lengthAdjust="spacingAndGlyphs" >edge2edge (e2e)</text>
<text x="141.00" y="1190.20" font-size="13.4" font-family="'Liberation Sans', sans-serif" font-weight="bold" >–</text>
<text x="156.50" y="1190.50" font-size="13.4" font-family="'Liberation Sans', sans-serif" font-weight="bold" textLength="86.70" lengthAdjust="spacingAndGlyphs" >vec2vec (v2v)</text>
<text x="456.50" y="1050.00" font-size="10.9" font-family="'Liberation Sans', sans-serif" >–</text>
<text x="469.20" y="1050.20" font-size="10.9" textLength="252.10" lengthAdjust="spacingAndGlyphs" xml:space="preserve" ><tspan font-family="'Liberation Sans', sans-serif" font-weight="bold">Edges to nodes</tspan><tspan font-family="'Liberation Sans', sans-serif"> Distill knowledge from the edge fea-</tspan></text>
<text x="469.20" y="1063.80" font-size="10.9" font-family="'Liberation Sans', sans-serif" word-spacing="1.673">tures of GemNet-OC into the node features of the</text>
<text x="469.20" y="1077.80" font-size="10.9" font-family="'Liberation Sans', sans-serif" >student:</text>
<text x="456.50" y="1140.40" font-size="10.9" font-family="'Liberation Sans', sans-serif" >–</text>
<text x="469.20" y="1140.60" font-size="10.9" word-spacing="2.841" xml:space="preserve"><tspan font-family="'Liberation Sans', sans-serif" font-weight="bold">Edges to vectors</tspan><tspan font-family="'Liberation Sans', sans-serif"> Construct vectorial features in</tspan></text>
<text x="469.20" y="1154.60" font-size="10.9" font-family="'Liberation Sans', sans-serif" word-spacing="1.656">GemNet-OC and distill them into the vectorial fea-</text>
<text x="469.20" y="1168.30" font-size="10.9" font-family="'Liberation Sans', sans-serif" >tures of PaiNN:</text>
<rect x="56.50" y="1216.80" width="120.00" height="2.00" fill="#000" />
<text x="55.90" y="1232.70" font-size="13.3" font-family="'Liberation Sans', sans-serif" font-weight="bold" font-style="italic" textLength="71.40" lengthAdjust="spacingAndGlyphs" >References</text>
<text x="55.20" y="1246.00" font-size="9.35" textLength="520.40" lengthAdjust="spacingAndGlyphs" xml:space="preserve" ><tspan font-family="'DejaVu Sans', sans-serif" font-weight="bold">SchNet</tspan><tspan font-family="'DejaVu Sans', sans-serif">: Schütt et al. </tspan><tspan font-family="'Liberation Sans', sans-serif" font-style="italic" font-size="9.85">SchNet: A continuous-filter convolutional neural network for modeling quantum interactions. NeurIPS 2017.</tspan></text>
<text x="55.20" y="1257.10" font-size="9.35" textLength="515.00" lengthAdjust="spacingAndGlyphs" xml:space="preserve" ><tspan font-family="'DejaVu Sans', sans-serif" font-weight="bold">PaiNN</tspan><tspan font-family="'DejaVu Sans', sans-serif">: Schütt et al. </tspan><tspan font-family="'Liberation Sans', sans-serif" font-style="italic" font-size="9.85">Equivariant message passing for the prediction of tensorial properties and molecular spectra.</tspan><tspan font-family="'DejaVu Sans', sans-serif"> ICML 2021.</tspan></text>
<text x="55.20" y="1268.30" font-size="9.35" textLength="595.90" lengthAdjust="spacingAndGlyphs" xml:space="preserve" ><tspan font-family="'DejaVu Sans', sans-serif" font-weight="bold">GemNet-OC</tspan><tspan font-family="'DejaVu Sans', sans-serif">: Gasteiger et al. </tspan><tspan font-family="'Liberation Sans', sans-serif" font-style="italic" font-size="9.85">GemNet-OC: Developing Graph Neural Networks for Large and Diverse Molecular Simulation Datasets. TMLR 2022.</tspan></text>
<text x="55.20" y="1279.70" font-size="9.35" textLength="459.10" lengthAdjust="spacingAndGlyphs" xml:space="preserve" ><tspan font-family="'DejaVu Sans', sans-serif" font-weight="bold">OC20</tspan><tspan font-family="'DejaVu Sans', sans-serif">: Chanussot et al. </tspan><tspan font-family="'Liberation Sans', sans-serif" font-style="italic" font-size="9.85">Open Catalyst 2020 (OC20) Dataset and Community Challenges.</tspan><tspan font-family="'DejaVu Sans', sans-serif"> ACS Catalysis 2021.</tspan></text>
<text x="55.20" y="1290.80" font-size="9.35" textLength="642.60" lengthAdjust="spacingAndGlyphs" xml:space="preserve" ><tspan font-family="'DejaVu Sans', sans-serif" font-weight="bold">COLL</tspan><tspan font-family="'DejaVu Sans', sans-serif">: Gasteiger et al. </tspan><tspan font-family="'DejaVu Sans', sans-serif" font-style="italic">Fast and Uncertainty-Aware Directional Message Passing for Non-Equilibrium Molecules</tspan><tspan font-family="'DejaVu Sans', sans-serif">. ML4Molecules at NeurIPS 2020.</tspan></text>
<text x="522.62" y="1102.10" font-size="12" font-family="'Liberation Serif', serif" font-style="italic" textLength="8.17" lengthAdjust="spacingAndGlyphs" >H</text>
<text x="531.60" y="1103.40" font-size="7.3" textLength="40.50" lengthAdjust="spacingAndGlyphs" xml:space="preserve" ><tspan font-family="'Liberation Serif', serif">edge2node,</tspan><tspan font-family="'Liberation Serif', serif" font-style="italic">i</tspan></text>
<text x="575.98" y="1102.40" font-size="13" font-family="'Liberation Serif', serif" textLength="9.33" lengthAdjust="spacingAndGlyphs" >=</text>
<text x="593.67" y="1103.10" font-size="14.8" font-family="'DejaVu Math TeX Gyre', 'DejaVu Sans', 'DejaVu Serif', serif" textLength="18.55" lengthAdjust="spacingAndGlyphs" >∑</text>
<text x="588.40" y="1114.70" font-size="7.3" textLength="28.30" lengthAdjust="spacingAndGlyphs" xml:space="preserve" ><tspan font-family="'Liberation Serif', serif" font-style="italic">j</tspan><tspan font-family="'DejaVu Math TeX Gyre', 'DejaVu Sans', 'DejaVu Serif', serif">∈</tspan><tspan font-family="'DejaVu Math TeX Gyre', 'DejaVu Sans', 'DejaVu Serif', serif">𝒩</tspan><tspan font-family="'Liberation Serif', serif">(</tspan><tspan font-family="'Liberation Serif', serif" font-style="italic">i</tspan><tspan font-family="'Liberation Serif', serif">)</tspan></text>
<text x="620.91" y="1102.10" font-size="12" font-family="'Liberation Serif', serif" font-style="italic" textLength="7.71" lengthAdjust="spacingAndGlyphs" >H</text>
<text x="629.80" y="1103.40" font-size="7.3" textLength="33.60" lengthAdjust="spacingAndGlyphs" xml:space="preserve" ><tspan font-family="'Liberation Serif', serif">edge,(</tspan><tspan font-family="'Liberation Serif', serif" font-style="italic">i</tspan><tspan font-family="'Liberation Serif', serif">,</tspan><tspan font-family="'Liberation Serif', serif" font-style="italic">j</tspan><tspan font-family="'Liberation Serif', serif">)</tspan></text>
<text x="665.60" y="1102.10" font-size="12" font-family="'Liberation Serif', serif" >,</text>
<text x="526.52" y="1192.70" font-size="12" font-family="'Liberation Serif', serif" font-style="italic" textLength="8.17" lengthAdjust="spacingAndGlyphs" >H</text>
<text x="536.50" y="1188.20" font-size="7.3" textLength="11.50" lengthAdjust="spacingAndGlyphs" xml:space="preserve" ><tspan font-family="'Liberation Serif', serif">(</tspan><tspan font-family="'Liberation Serif', serif" font-style="italic">k</tspan><tspan font-family="'Liberation Serif', serif">)</tspan></text>
<text x="536.00" y="1195.50" font-size="7.3" textLength="15.90" lengthAdjust="spacingAndGlyphs" xml:space="preserve" ><tspan font-family="'Liberation Serif', serif">vec,</tspan><tspan font-family="'Liberation Serif', serif" font-style="italic">i</tspan></text>
<text x="555.38" y="1193.00" font-size="13" font-family="'Liberation Serif', serif" textLength="9.33" lengthAdjust="spacingAndGlyphs" >=</text>
<text x="573.56" y="1193.80" font-size="14.8" font-family="'DejaVu Math TeX Gyre', 'DejaVu Sans', 'DejaVu Serif', serif" textLength="18.79" lengthAdjust="spacingAndGlyphs" >∑</text>
<text x="568.20" y="1205.60" font-size="7.3" textLength="28.80" lengthAdjust="spacingAndGlyphs" xml:space="preserve" ><tspan font-family="'Liberation Serif', serif" font-style="italic">j</tspan><tspan font-family="'DejaVu Math TeX Gyre', 'DejaVu Sans', 'DejaVu Serif', serif">∈</tspan><tspan font-family="'DejaVu Math TeX Gyre', 'DejaVu Sans', 'DejaVu Serif', serif">𝒩</tspan><tspan font-family="'Liberation Serif', serif">(</tspan><tspan font-family="'Liberation Serif', serif" font-style="italic">i</tspan><tspan font-family="'Liberation Serif', serif">)</tspan></text>
<text x="599.81" y="1192.70" font-size="12" font-family="'Liberation Serif', serif" font-weight="bold" font-style="italic" textLength="9.03" lengthAdjust="spacingAndGlyphs" >u</text>
<text x="608.70" y="1195.00" font-size="7.3" textLength="8.40" lengthAdjust="spacingAndGlyphs" xml:space="preserve" ><tspan font-family="'Liberation Serif', serif" font-style="italic">i</tspan><tspan font-family="'Liberation Serif', serif">,</tspan><tspan font-family="'Liberation Serif', serif" font-style="italic">j</tspan></text>
<text x="619.42" y="1192.70" font-size="12" font-family="'Liberation Serif', serif" font-style="italic" textLength="8.36" lengthAdjust="spacingAndGlyphs" >H</text>
<text x="629.60" y="1188.20" font-size="7.3" textLength="11.50" lengthAdjust="spacingAndGlyphs" xml:space="preserve" ><tspan font-family="'Liberation Serif', serif">(</tspan><tspan font-family="'Liberation Serif', serif" font-style="italic">k</tspan><tspan font-family="'Liberation Serif', serif">)</tspan></text>
<text x="628.80" y="1195.80" font-size="7.3" textLength="34.00" lengthAdjust="spacingAndGlyphs" xml:space="preserve" ><tspan font-family="'Liberation Serif', serif">edge,(</tspan><tspan font-family="'Liberation Serif', serif" font-style="italic">i</tspan><tspan font-family="'Liberation Serif', serif">,</tspan><tspan font-family="'Liberation Serif', serif" font-style="italic">j</tspan><tspan font-family="'Liberation Serif', serif">)</tspan></text>
<text x="1135.56" y="286.80" font-size="21.4" font-family="'Liberation Sans', sans-serif" font-weight="bold" fill="#0a0a0a" textLength="99.27" lengthAdjust="spacingAndGlyphs" >OC20-2M</text>
<path d="M1073.7,300.2 V294.8 H1295.9 V300.2" fill="none" stroke="#222" stroke-width="2"/>
<text x="916.74" y="333.50" font-size="19.6" font-family="'Liberation Sans', sans-serif" font-weight="bold" fill="#0a0a0a" textLength="105.37" lengthAdjust="spacingAndGlyphs" >GemNet-OC</text>
<text x="1070.71" y="342.40" font-size="19.6" font-family="'Liberation Sans', sans-serif" font-weight="bold" fill="#0a0a0a" textLength="56.89" lengthAdjust="spacingAndGlyphs" >PaiNN</text>
<text x="1244.70" y="342.40" font-size="19.6" font-family="'Liberation Sans', sans-serif" font-weight="bold" fill="#0a0a0a" textLength="57.21" lengthAdjust="spacingAndGlyphs" >PaiNN</text>
<text x="1333.72" y="358.30" font-size="19.6" font-family="'Liberation Sans', sans-serif" font-weight="bold" fill="#0a0a0a" textLength="112.04" lengthAdjust="spacingAndGlyphs" >PaiNN-small</text>
<defs><linearGradient id="fa" x1="0" x2="1" y1="0" y2="0"><stop offset="0" stop-color="#8a95bb" stop-opacity="0"/><stop offset="0.45" stop-color="#8a95bb" stop-opacity="1"/></linearGradient><pattern id="hat" width="2.52" height="2.52" patternUnits="userSpaceOnUse" patternTransform="rotate(-45)"><rect width="2.52" height="2.52" fill="#fff"/><rect y="0" width="2.52" height="0.7" fill="#7386b3"/></pattern></defs>
<circle cx="969.20" cy="389.40" r="52.20" fill="#dfe0ee" stroke="#47475f" stroke-width="2.4"/>
<circle cx="1100.00" cy="389.40" r="43.30" fill="#f5f6fb" stroke="#8c99bf" stroke-width="1.8"/>
<circle cx="1273.70" cy="389.40" r="43.30" fill="#f5f6fb" stroke="#8c99bf" stroke-width="1.8"/>
<circle cx="1388.90" cy="393.20" r="31.00" fill="#f5f6fb" stroke="#8c99bf" stroke-width="1.8"/>
<rect x="1011.00" y="381.40" width="22.80" height="16.60" fill="url(#fa)" />
<path d="M1033.3,372.5 L1066.7,389.6 L1033.3,406.8 z" fill="#8a95bb"/>
<text x="1032.87" y="393.40" font-size="11" font-family="'Liberation Sans', sans-serif" font-weight="bold" fill="#4c4c5c" textLength="15.68" lengthAdjust="spacingAndGlyphs" >KD</text>
<rect x="1308.50" y="381.40" width="22.80" height="16.60" fill="url(#fa)" />
<path d="M1330.8,372.5 L1364.4,389.6 L1330.8,406.8 z" fill="#8a95bb"/>
<text x="1330.37" y="393.40" font-size="11" font-family="'Liberation Sans', sans-serif" font-weight="bold" fill="#4c4c5c" textLength="15.68" lengthAdjust="spacingAndGlyphs" >KD</text>
<text x="953.98" y="391.00" font-size="17" font-family="'DejaVu Sans', sans-serif" font-weight="bold" font-style="italic" fill="#111" textLength="30.15" lengthAdjust="spacingAndGlyphs" >107</text>
<text x="932.57" y="405.90" font-size="12" font-family="'DejaVu Sans', sans-serif" font-style="italic" fill="#111" textLength="73.30" lengthAdjust="spacingAndGlyphs" >samples/sec</text>
<text x="1083.38" y="391.00" font-size="17" font-family="'DejaVu Sans', sans-serif" font-weight="bold" font-style="italic" fill="#111" textLength="31.85" lengthAdjust="spacingAndGlyphs" >264</text>
<text x="1062.77" y="405.90" font-size="12" font-family="'DejaVu Sans', sans-serif" font-style="italic" fill="#111" textLength="72.59" lengthAdjust="spacingAndGlyphs" >samples/sec</text>
<text x="1256.98" y="391.00" font-size="17" font-family="'DejaVu Sans', sans-serif" font-weight="bold" font-style="italic" fill="#111" textLength="31.95" lengthAdjust="spacingAndGlyphs" >264</text>
<text x="1236.37" y="405.90" font-size="12" font-family="'DejaVu Sans', sans-serif" font-style="italic" fill="#111" textLength="72.69" lengthAdjust="spacingAndGlyphs" >samples/sec</text>
<text x="1372.95" y="391.00" font-size="17" font-family="'DejaVu Sans', sans-serif" font-weight="bold" font-style="italic" fill="#111" textLength="31.38" lengthAdjust="spacingAndGlyphs" >680</text>
<text x="1352.87" y="405.90" font-size="12" font-family="'DejaVu Sans', sans-serif" font-style="italic" fill="#111" textLength="72.09" lengthAdjust="spacingAndGlyphs" >samples/sec</text>
<path d="M923,458.5 V453 H1145.3 V458.5" fill="none" stroke="#222" stroke-width="2"/>
<path d="M1219.8,458.5 V453 H1442.2 V458.5" fill="none" stroke="#222" stroke-width="2"/>
<clipPath id="hc1"><rect x="941.9" y="506.3" width="55.700000000000045" height="83.40000000000003"/></clipPath>
<rect x="941.90" y="506.30" width="55.70" height="83.40" fill="#fff" />
<path d="M851.65,589.70L935.05,506.30M856.69,589.70L940.09,506.30M861.73,589.70L945.13,506.30M866.77,589.70L950.17,506.30M871.81,589.70L955.21,506.30M876.85,589.70L960.25,506.30M881.89,589.70L965.29,506.30M886.93,589.70L970.33,506.30M891.97,589.70L975.37,506.30M897.01,589.70L980.41,506.30M902.05,589.70L985.45,506.30M907.09,589.70L990.49,506.30M912.13,589.70L995.53,506.30M917.17,589.70L1000.57,506.30M922.21,589.70L1005.61,506.30M927.25,589.70L1010.65,506.30M932.29,589.70L1015.69,506.30M937.33,589.70L1020.73,506.30M942.37,589.70L1025.77,506.30M947.41,589.70L1030.81,506.30M952.45,589.70L1035.85,506.30M957.49,589.70L1040.89,506.30M962.53,589.70L1045.93,506.30M967.57,589.70L1050.97,506.30M972.61,589.70L1056.01,506.30M977.65,589.70L1061.05,506.30M982.69,589.70L1066.09,506.30M987.73,589.70L1071.13,506.30M992.77,589.70L1076.17,506.30M997.81,589.70L1081.21,506.30" stroke="#7386b3" stroke-width="1.05" stroke-opacity="0.78" fill="none" clip-path="url(#hc1)"/>
<rect x="941.90" y="589.70" width="55.70" height="53.90" fill="#7386b3" />
<rect x="941.9" y="506.3" width="55.700000000000045" height="137.3" fill="none" stroke="#000" stroke-width="1.8"/>
<line x1="938.40" y1="506.30" x2="1001.10" y2="506.30" stroke="#000" stroke-width="1.3" />
<line x1="938.40" y1="589.70" x2="1001.10" y2="589.70" stroke="#000" stroke-width="1.3" />
<line x1="938.40" y1="643.60" x2="1001.10" y2="643.60" stroke="#000" stroke-width="1.3" />
<text x="945.81" y="487.80" font-size="10.4" font-family="'DejaVu Sans', sans-serif" font-weight="bold" textLength="46.60" lengthAdjust="spacingAndGlyphs" >Energy</text>
<text x="954.84" y="500.70" font-size="10.4" font-family="'DejaVu Sans', sans-serif" font-weight="bold" textLength="29.59" lengthAdjust="spacingAndGlyphs" >MAE</text>
<text x="1003.00" y="509.80" font-size="9.8" font-family="'DejaVu Sans', sans-serif" font-weight="bold" >440.2</text>
<text x="1003.00" y="593.20" font-size="9.8" font-family="'DejaVu Sans', sans-serif" font-weight="bold" >346.1</text>
<text x="1003.00" y="647.10" font-size="9.8" font-family="'DejaVu Sans', sans-serif" font-weight="bold" >285.5</text>
<text transform="translate(1046.8,576) rotate(-90)" text-anchor="middle" font-size="9.3" font-family="'DejaVu Sans', sans-serif" font-weight="bold">meV</text>
<text x="945.97" y="551.60" font-size="12.6" font-family="'DejaVu Sans', sans-serif" font-weight="bold" fill="#a53d3d" textLength="46.66" lengthAdjust="spacingAndGlyphs" >60.8%</text>
<clipPath id="hc2"><rect x="1074" y="506.3" width="55.799999999999955" height="28.19999999999999"/></clipPath>
<rect x="1074.00" y="506.30" width="55.80" height="28.20" fill="#fff" />
<path d="M1037.89,534.50L1066.09,506.30M1042.93,534.50L1071.13,506.30M1047.97,534.50L1076.17,506.30M1053.01,534.50L1081.21,506.30M1058.05,534.50L1086.25,506.30M1063.09,534.50L1091.29,506.30M1068.13,534.50L1096.33,506.30M1073.17,534.50L1101.37,506.30M1078.21,534.50L1106.41,506.30M1083.25,534.50L1111.45,506.30M1088.29,534.50L1116.49,506.30M1093.33,534.50L1121.53,506.30M1098.37,534.50L1126.57,506.30M1103.41,534.50L1131.61,506.30M1108.45,534.50L1136.65,506.30M1113.49,534.50L1141.69,506.30M1118.53,534.50L1146.73,506.30M1123.57,534.50L1151.77,506.30M1128.61,534.50L1156.81,506.30" stroke="#7386b3" stroke-width="1.05" stroke-opacity="0.78" fill="none" clip-path="url(#hc2)"/>
<rect x="1074.00" y="534.50" width="55.80" height="109.10" fill="#7386b3" />
<rect x="1074" y="506.3" width="55.799999999999955" height="137.3" fill="none" stroke="#000" stroke-width="1.8"/>
<line x1="1070.50" y1="506.30" x2="1133.30" y2="506.30" stroke="#000" stroke-width="1.3" />
<line x1="1070.50" y1="534.50" x2="1133.30" y2="534.50" stroke="#000" stroke-width="1.3" />
<line x1="1070.50" y1="643.60" x2="1133.30" y2="643.60" stroke="#000" stroke-width="1.3" />
<text x="1083.31" y="487.80" font-size="10.4" font-family="'DejaVu Sans', sans-serif" font-weight="bold" textLength="36.87" lengthAdjust="spacingAndGlyphs" >Force</text>
<text x="1086.99" y="500.70" font-size="10.4" font-family="'DejaVu Sans', sans-serif" font-weight="bold" textLength="29.59" lengthAdjust="spacingAndGlyphs" >MAE</text>
<text x="1135.20" y="509.80" font-size="9.8" font-family="'DejaVu Sans', sans-serif" font-weight="bold" >45.3</text>
<text x="1135.20" y="538.00" font-size="9.8" font-family="'DejaVu Sans', sans-serif" font-weight="bold" >41.3</text>
<text x="1135.20" y="647.10" font-size="9.8" font-family="'DejaVu Sans', sans-serif" font-weight="bold" >25.7</text>
<text transform="translate(1171.8,576) rotate(-90)" text-anchor="middle" font-size="9.3" font-family="'DejaVu Sans', sans-serif" font-weight="bold">meV/Å</text>
<text x="1078.43" y="523.60" font-size="12.6" font-family="'DejaVu Sans', sans-serif" font-weight="bold" fill="#a53d3d" textLength="46.80" lengthAdjust="spacingAndGlyphs" >20.5%</text>
<clipPath id="hc3"><rect x="1235.7" y="506.3" width="55.799999999999955" height="88.90000000000003"/></clipPath>
<rect x="1235.70" y="506.30" width="55.80" height="88.90" fill="#fff" />
<path d="M1138.47,595.20L1227.37,506.30M1143.51,595.20L1232.41,506.30M1148.55,595.20L1237.45,506.30M1153.59,595.20L1242.49,506.30M1158.63,595.20L1247.53,506.30M1163.67,595.20L1252.57,506.30M1168.71,595.20L1257.61,506.30M1173.75,595.20L1262.65,506.30M1178.79,595.20L1267.69,506.30M1183.83,595.20L1272.73,506.30M1188.87,595.20L1277.77,506.30M1193.91,595.20L1282.81,506.30M1198.95,595.20L1287.85,506.30M1203.99,595.20L1292.89,506.30M1209.03,595.20L1297.93,506.30M1214.07,595.20L1302.97,506.30M1219.11,595.20L1308.01,506.30M1224.15,595.20L1313.05,506.30M1229.19,595.20L1318.09,506.30M1234.23,595.20L1323.13,506.30M1239.27,595.20L1328.17,506.30M1244.31,595.20L1333.21,506.30M1249.35,595.20L1338.25,506.30M1254.39,595.20L1343.29,506.30M1259.43,595.20L1348.33,506.30M1264.47,595.20L1353.37,506.30M1269.51,595.20L1358.41,506.30M1274.55,595.20L1363.45,506.30M1279.59,595.20L1368.49,506.30M1284.63,595.20L1373.53,506.30M1289.67,595.20L1378.57,506.30" stroke="#7386b3" stroke-width="1.05" stroke-opacity="0.78" fill="none" clip-path="url(#hc3)"/>
<rect x="1235.70" y="595.20" width="55.80" height="48.40" fill="#7386b3" />
<rect x="1235.7" y="506.3" width="55.799999999999955" height="137.3" fill="none" stroke="#000" stroke-width="1.8"/>
<line x1="1232.20" y1="506.30" x2="1295.00" y2="506.30" stroke="#000" stroke-width="1.3" />
<line x1="1232.20" y1="595.20" x2="1295.00" y2="595.20" stroke="#000" stroke-width="1.3" />
<line x1="1232.20" y1="643.60" x2="1295.00" y2="643.60" stroke="#000" stroke-width="1.3" />
<text x="1240.02" y="487.80" font-size="10.4" font-family="'DejaVu Sans', sans-serif" font-weight="bold" textLength="46.29" lengthAdjust="spacingAndGlyphs" >Energy</text>
<text x="1248.69" y="500.70" font-size="10.4" font-family="'DejaVu Sans', sans-serif" font-weight="bold" textLength="29.59" lengthAdjust="spacingAndGlyphs" >MAE</text>
<text x="1296.90" y="509.80" font-size="9.8" font-family="'DejaVu Sans', sans-serif" font-weight="bold" >489.2</text>
<text x="1296.90" y="598.70" font-size="9.8" font-family="'DejaVu Sans', sans-serif" font-weight="bold" >457.4</text>
<text x="1296.90" y="647.10" font-size="9.8" font-family="'DejaVu Sans', sans-serif" font-weight="bold" >440.2</text>
<text transform="translate(1341,576) rotate(-90)" text-anchor="middle" font-size="9.3" font-family="'DejaVu Sans', sans-serif" font-weight="bold">meV</text>
<text x="1239.96" y="554.10" font-size="12.6" font-family="'DejaVu Sans', sans-serif" font-weight="bold" fill="#a53d3d" textLength="46.87" lengthAdjust="spacingAndGlyphs" >64.8%</text>
<clipPath id="hc4"><rect x="1367.8" y="506.3" width="56.200000000000045" height="28.19999999999999"/></clipPath>
<rect x="1367.80" y="506.30" width="56.20" height="28.20" fill="#fff" />
<path d="M1330.21,534.50L1358.41,506.30M1335.25,534.50L1363.45,506.30M1340.29,534.50L1368.49,506.30M1345.33,534.50L1373.53,506.30M1350.37,534.50L1378.57,506.30M1355.41,534.50L1383.61,506.30M1360.45,534.50L1388.65,506.30M1365.49,534.50L1393.69,506.30M1370.53,534.50L1398.73,506.30M1375.57,534.50L1403.77,506.30M1380.61,534.50L1408.81,506.30M1385.65,534.50L1413.85,506.30M1390.69,534.50L1418.89,506.30M1395.73,534.50L1423.93,506.30M1400.77,534.50L1428.97,506.30M1405.81,534.50L1434.01,506.30M1410.85,534.50L1439.05,506.30M1415.89,534.50L1444.09,506.30M1420.93,534.50L1449.13,506.30M1425.97,534.50L1454.17,506.30" stroke="#7386b3" stroke-width="1.05" stroke-opacity="0.78" fill="none" clip-path="url(#hc4)"/>
<rect x="1367.80" y="534.50" width="56.20" height="109.10" fill="#7386b3" />
<rect x="1367.8" y="506.3" width="56.200000000000045" height="137.3" fill="none" stroke="#000" stroke-width="1.8"/>
<line x1="1364.30" y1="506.30" x2="1427.50" y2="506.30" stroke="#000" stroke-width="1.3" />
<line x1="1364.30" y1="534.50" x2="1427.50" y2="534.50" stroke="#000" stroke-width="1.3" />
<line x1="1364.30" y1="643.60" x2="1427.50" y2="643.60" stroke="#000" stroke-width="1.3" />
<text x="1377.31" y="487.80" font-size="10.4" font-family="'DejaVu Sans', sans-serif" font-weight="bold" textLength="36.87" lengthAdjust="spacingAndGlyphs" >Force</text>
<text x="1380.99" y="500.70" font-size="10.4" font-family="'DejaVu Sans', sans-serif" font-weight="bold" textLength="29.59" lengthAdjust="spacingAndGlyphs" >MAE</text>
<text x="1429.40" y="509.80" font-size="9.8" font-family="'DejaVu Sans', sans-serif" font-weight="bold" >47.1</text>
<text x="1429.40" y="538.00" font-size="9.8" font-family="'DejaVu Sans', sans-serif" font-weight="bold" >46.7</text>
<text x="1429.40" y="647.10" font-size="9.8" font-family="'DejaVu Sans', sans-serif" font-weight="bold" >45.3</text>
<text transform="translate(1466.5,576) rotate(-90)" text-anchor="middle" font-size="9.3" font-family="'DejaVu Sans', sans-serif" font-weight="bold">meV/Å</text>
<text x="1372.33" y="523.60" font-size="12.6" font-family="'DejaVu Sans', sans-serif" font-weight="bold" fill="#a53d3d" textLength="47.10" lengthAdjust="spacingAndGlyphs" >20.5%</text>
<path d="M910.25,523.9 H915.95 V560.2 H920.3000000000001 L913.1,574.2 L905.9,560.2 H910.25 z" fill="#b95f5f"/>
<path d="M1063.25,506.3 H1068.9499999999998 V518.3 H1073.3 L1066.1,532.3 L1058.8999999999999,518.3 H1063.25 z" fill="#b95f5f"/>
<path d="M1224.75,506.3 H1230.4499999999998 V579.6 H1234.8 L1227.6,593.6 L1220.3999999999999,579.6 H1224.75 z" fill="#b95f5f"/>
<path d="M1356.95,506.3 H1362.6499999999999 V518.3 H1367.0 L1359.8,532.3 L1352.6,518.3 H1356.95 z" fill="#b95f5f"/>
<text x="868.36" y="556.60" font-size="24.5" font-family="'Liberation Sans', sans-serif" font-weight="bold" fill="#b95f5f" textLength="35.47" lengthAdjust="spacingAndGlyphs" >KD</text>
<text x="890.48" y="505.10" font-size="9.3" font-family="'DejaVu Sans', sans-serif" font-weight="bold" textLength="45.25" lengthAdjust="spacingAndGlyphs" >Student</text>
<text x="878.72" y="515.90" font-size="9.3" font-family="'DejaVu Sans', sans-serif" font-weight="bold" textLength="57.65" lengthAdjust="spacingAndGlyphs" >(baseline)</text>
<text x="890.48" y="588.50" font-size="9.3" font-family="'DejaVu Sans', sans-serif" font-weight="bold" textLength="45.25" lengthAdjust="spacingAndGlyphs" >Student</text>
<text x="881.82" y="599.10" font-size="9.3" font-family="'DejaVu Sans', sans-serif" font-weight="bold" textLength="54.56" lengthAdjust="spacingAndGlyphs" >(with KD)</text>
<text x="892.35" y="647.30" font-size="9.3" font-family="'DejaVu Sans', sans-serif" font-weight="bold" textLength="43.18" lengthAdjust="spacingAndGlyphs" >Teacher</text>
<text x="873.70" y="688.60" font-size="20" fill="#231f20" textLength="563.80" lengthAdjust="spacingAndGlyphs" xml:space="preserve" ><tspan font-family="'Liberation Sans', sans-serif" font-weight="bold">• We close the gap in performance</tspan><tspan font-family="'Liberation Sans', sans-serif"> between more competent</tspan></text>
<text x="920.60" y="713.00" font-size="20" font-family="'Liberation Sans', sans-serif" fill="#231f20" textLength="483.50" lengthAdjust="spacingAndGlyphs" >teacher models and simpler student models using KD.</text>
<text x="969.10" y="754.60" font-size="16" font-family="'Liberation Sans', sans-serif" font-weight="bold" fill="#111" textLength="73.94" lengthAdjust="spacingAndGlyphs" >OC20-2M</text>
<text x="1334.29" y="754.60" font-size="16" font-family="'Liberation Sans', sans-serif" font-weight="bold" fill="#111" textLength="40.78" lengthAdjust="spacingAndGlyphs" >COLL</text>
<text x="1003.20" y="777.70" font-size="13.75" font-family="'Liberation Serif', serif" text-anchor="middle" >Energy MAE</text>
<text x="1097.80" y="777.70" font-size="13.75" font-family="'Liberation Serif', serif" text-anchor="middle" >Force MAE</text>
<text x="829.20" y="794.40" font-size="13.75" font-family="'Liberation Serif', serif" >Model</text>
<text x="1003.20" y="794.40" font-size="13.75" text-anchor="middle" xml:space="preserve" ><tspan font-family="'Liberation Serif', serif">meV </tspan><tspan font-family="'DejaVu Math TeX Gyre', 'DejaVu Sans', 'DejaVu Serif', serif" font-size="15.5">↓</tspan></text>
<text x="1097.80" y="794.40" font-size="13.75" text-anchor="middle" xml:space="preserve" ><tspan font-family="'Liberation Serif', serif">meV/Å </tspan><tspan font-family="'DejaVu Math TeX Gyre', 'DejaVu Sans', 'DejaVu Serif', serif" font-size="15.5">↓</tspan></text>
<line x1="823.80" y1="801.90" x2="1140.30" y2="801.90" stroke="#666" stroke-width="0.8" />
<line x1="823.80" y1="804.80" x2="1140.30" y2="804.80" stroke="#666" stroke-width="0.8" />
<text x="829.20" y="819.45" font-size="13.75" xml:space="preserve" ><tspan font-family="'Liberation Serif', serif" font-style="italic">S</tspan><tspan font-family="'Liberation Serif', serif">: PaiNN-small</tspan></text>
<text x="1003.20" y="819.45" font-size="13.75" font-family="'Liberation Serif', serif" text-anchor="middle" >489</text>
<text x="1097.80" y="819.45" font-size="13.75" font-family="'Liberation Serif', serif" text-anchor="middle" >47.1</text>
<text x="829.20" y="834.50" font-size="13.75" xml:space="preserve" ><tspan font-family="'Liberation Serif', serif" font-style="italic">T</tspan><tspan font-family="'Liberation Serif', serif">: PaiNN</tspan></text>
<text x="1003.20" y="834.50" font-size="13.75" font-family="'Liberation Serif', serif" text-anchor="middle" >440</text>
<text x="1097.80" y="834.50" font-size="13.75" font-family="'Liberation Serif', serif" text-anchor="middle" >45.3</text>
<line x1="828.00" y1="841.40" x2="1135.60" y2="841.40" stroke="#555" stroke-width="0.8" stroke-dasharray="5.95,5.2"/>
<text x="829.20" y="856.20" font-size="13.75" font-family="'Liberation Serif', serif" font-style="italic" >Vanilla (1)</text>
<text x="1003.20" y="856.20" font-size="13.75" font-family="'Liberation Serif', serif" text-anchor="middle" >515(-52.4%)</text>
<text x="1097.80" y="856.20" font-size="13.75" font-family="'Liberation Serif', serif" text-anchor="middle" >48.5(-81.0%)</text>
<text x="829.20" y="871.20" font-size="13.75" font-family="'Liberation Serif', serif" font-style="italic" >Vanilla (2)</text>
<text x="1003.20" y="871.20" font-size="13.75" font-family="'Liberation Serif', serif" text-anchor="middle" >476(27.2%)</text>
<text x="1097.80" y="871.20" font-size="13.75" font-family="'Liberation Serif', serif" text-anchor="middle" >50.8(-215%)</text>
<text x="829.20" y="886.20" font-size="13.75" font-family="'Liberation Serif', serif" font-style="italic" >n2n</text>
<text x="1003.20" y="886.20" font-size="13.75" font-family="'Liberation Serif', serif" font-weight="bold" text-anchor="middle" >457 (64.8%)</text>
<text x="1097.80" y="886.20" font-size="13.75" font-family="'Liberation Serif', serif" font-weight="bold" text-anchor="middle" >46.7 (20.5%)</text>
<text x="829.20" y="901.30" font-size="13.75" font-family="'Liberation Serif', serif" font-style="italic" >v2v</text>
<text x="1003.20" y="901.30" font-size="13.75" font-family="'Liberation Serif', serif" text-anchor="middle" >459(60.8%)</text>
<text x="1097.80" y="901.30" font-size="13.75" font-family="'Liberation Serif', serif" text-anchor="middle" >47.2(-9.1%)</text>
<line x1="823.80" y1="908.20" x2="1140.30" y2="908.20" stroke="#555" stroke-width="0.6" />
<text x="829.20" y="923.30" font-size="13.75" xml:space="preserve" ><tspan font-family="'Liberation Serif', serif" font-style="italic">S</tspan><tspan font-family="'Liberation Serif', serif">: GemNet-OC-small</tspan></text>
<text x="1003.20" y="923.30" font-size="13.75" font-family="'Liberation Serif', serif" text-anchor="middle" >344</text>
<text x="1097.80" y="923.30" font-size="13.75" font-family="'Liberation Serif', serif" text-anchor="middle" >31.3</text>
<text x="829.20" y="938.30" font-size="13.75" xml:space="preserve" ><tspan font-family="'Liberation Serif', serif" font-style="italic">T</tspan><tspan font-family="'Liberation Serif', serif">: GemNet-OC</tspan></text>
<text x="1003.20" y="938.30" font-size="13.75" font-family="'Liberation Serif', serif" text-anchor="middle" >286</text>
<text x="1097.80" y="938.30" font-size="13.75" font-family="'Liberation Serif', serif" text-anchor="middle" >25.7</text>
<line x1="828.00" y1="945.30" x2="1135.60" y2="945.30" stroke="#555" stroke-width="0.8" stroke-dasharray="5.95,5.2"/>
<text x="829.20" y="959.50" font-size="13.75" font-family="'Liberation Serif', serif" font-style="italic" >Vanilla (1)</text>
<text x="1003.20" y="959.50" font-size="13.75" font-family="'Liberation Serif', serif" text-anchor="middle" >339(9.1%)</text>
<text x="1097.80" y="959.50" font-size="13.75" font-family="'Liberation Serif', serif" text-anchor="middle" >31.2(-1.0%)</text>
<text x="829.20" y="974.60" font-size="13.75" font-family="'Liberation Serif', serif" font-style="italic" >Vanilla (2)</text>
<text x="1003.20" y="974.60" font-size="13.75" font-family="'Liberation Serif', serif" text-anchor="middle" >328(27.8%)</text>
<text x="1097.80" y="974.60" font-size="13.75" font-family="'Liberation Serif', serif" text-anchor="middle" >31.2(0.3%)</text>
<text x="829.20" y="989.80" font-size="13.75" font-family="'Liberation Serif', serif" font-style="italic" >n2n</text>
<text x="1003.20" y="989.80" font-size="13.75" font-family="'Liberation Serif', serif" font-weight="bold" text-anchor="middle" >310 (58.8%)</text>
<text x="1097.80" y="989.80" font-size="13.75" font-family="'Liberation Serif', serif" text-anchor="middle" >31.1(2.2%)</text>
<text x="829.20" y="1005.00" font-size="13.75" font-family="'Liberation Serif', serif" font-style="italic" >e2e</text>
<text x="1003.20" y="1005.00" font-size="13.75" font-family="'Liberation Serif', serif" text-anchor="middle" >334(16.5%)</text>
<text x="1097.80" y="1005.00" font-size="13.75" font-family="'Liberation Serif', serif" font-weight="bold" text-anchor="middle" >29.7 (27.6%)</text>
<line x1="823.80" y1="1011.80" x2="1140.30" y2="1011.80" stroke="#555" stroke-width="0.6" />
<text x="829.20" y="1026.60" font-size="13.75" xml:space="preserve" ><tspan font-family="'Liberation Serif', serif" font-style="italic">S</tspan><tspan font-family="'Liberation Serif', serif">: SchNet</tspan></text>
<text x="1003.20" y="1026.60" font-size="13.75" font-family="'Liberation Serif', serif" text-anchor="middle" >1308</text>
<text x="1097.80" y="1026.60" font-size="13.75" font-family="'Liberation Serif', serif" text-anchor="middle" >65.1</text>
<text x="829.20" y="1041.70" font-size="13.75" xml:space="preserve" ><tspan font-family="'Liberation Serif', serif" font-style="italic">T</tspan><tspan font-family="'Liberation Serif', serif">: PaiNN</tspan></text>
<text x="1003.20" y="1041.70" font-size="13.75" font-family="'Liberation Serif', serif" text-anchor="middle" >440</text>
<text x="1097.80" y="1041.70" font-size="13.75" font-family="'Liberation Serif', serif" text-anchor="middle" >45.3</text>
<line x1="828.00" y1="1048.40" x2="1135.60" y2="1048.40" stroke="#555" stroke-width="0.8" stroke-dasharray="5.95,5.2"/>
<text x="829.20" y="1063.10" font-size="13.75" font-family="'Liberation Serif', serif" font-style="italic" >Vanilla (1)</text>
<text x="1003.20" y="1063.10" font-size="13.75" font-family="'Liberation Serif', serif" font-weight="bold" text-anchor="middle" >1214 (10.8%)</text>
<text x="1097.80" y="1063.10" font-size="13.75" font-family="'Liberation Serif', serif" text-anchor="middle" >64.6(2.3%)</text>
<text x="829.20" y="1078.30" font-size="13.75" font-family="'Liberation Serif', serif" font-style="italic" >Vanilla (2)</text>
<text x="1003.20" y="1078.30" font-size="13.75" font-family="'Liberation Serif', serif" text-anchor="middle" >1216(10.5%)</text>
<text x="1097.80" y="1078.30" font-size="13.75" font-family="'Liberation Serif', serif" font-weight="bold" text-anchor="middle" >64.6 (2.5%)</text>
<text x="829.20" y="1093.50" font-size="13.75" font-family="'Liberation Serif', serif" font-style="italic" >n2n</text>
<text x="1003.20" y="1093.50" font-size="13.75" font-family="'Liberation Serif', serif" text-anchor="middle" >1251(6.6%)</text>
<text x="1097.80" y="1093.50" font-size="13.75" font-family="'Liberation Serif', serif" text-anchor="middle" >65.2(-0.5%)</text>
<line x1="823.80" y1="1100.60" x2="1140.30" y2="1100.60" stroke="#555" stroke-width="0.6" />
<text x="829.20" y="1115.40" font-size="13.75" xml:space="preserve" ><tspan font-family="'Liberation Serif', serif" font-style="italic">S</tspan><tspan font-family="'Liberation Serif', serif">: PaiNN</tspan></text>
<text x="1003.20" y="1115.40" font-size="13.75" font-family="'Liberation Serif', serif" text-anchor="middle" >440</text>
<text x="1097.80" y="1115.40" font-size="13.75" font-family="'Liberation Serif', serif" text-anchor="middle" >45.3</text>
<text x="829.20" y="1130.40" font-size="13.75" xml:space="preserve" ><tspan font-family="'Liberation Serif', serif" font-style="italic">T</tspan><tspan font-family="'Liberation Serif', serif">: GemNet-OC</tspan></text>
<text x="1003.20" y="1130.40" font-size="13.75" font-family="'Liberation Serif', serif" text-anchor="middle" >286</text>
<text x="1097.80" y="1130.40" font-size="13.75" font-family="'Liberation Serif', serif" text-anchor="middle" >25.7</text>
<line x1="828.00" y1="1137.40" x2="1135.60" y2="1137.40" stroke="#555" stroke-width="0.8" stroke-dasharray="5.95,5.2"/>
<text x="829.20" y="1151.90" font-size="13.75" font-family="'Liberation Serif', serif" font-style="italic" >Vanilla (1)</text>
<text x="1003.20" y="1151.90" font-size="13.75" font-family="'Liberation Serif', serif" text-anchor="middle" >440(0.0%)</text>
<text x="1097.80" y="1151.90" font-size="13.75" font-family="'Liberation Serif', serif" text-anchor="middle" >43.9(7.1%)</text>
<text x="829.20" y="1167.10" font-size="13.75" font-family="'Liberation Serif', serif" font-style="italic" >Vanilla (2)</text>
<text x="1003.20" y="1167.10" font-size="13.75" font-family="'Liberation Serif', serif" text-anchor="middle" >419(13.6%)</text>
<text x="1097.80" y="1167.10" font-size="13.75" font-family="'Liberation Serif', serif" text-anchor="middle" >114.8(-353%)</text>
<text x="829.20" y="1182.10" font-size="13.75" font-family="'Liberation Serif', serif" font-style="italic" >n2n</text>
<text x="1003.20" y="1182.10" font-size="13.75" font-family="'Liberation Serif', serif" font-weight="bold" text-anchor="middle" >346 (60.8%)</text>
<text x="1097.80" y="1182.10" font-size="13.75" font-family="'Liberation Serif', serif" text-anchor="middle" >42.8(12.8%)</text>
<text x="829.20" y="1197.20" font-size="13.75" font-family="'Liberation Serif', serif" font-style="italic" >e2n</text>
<text x="1003.20" y="1197.20" font-size="13.75" font-family="'Liberation Serif', serif" text-anchor="middle" >418(14.2%)</text>
<text x="1097.80" y="1197.20" font-size="13.75" font-family="'Liberation Serif', serif" font-weight="bold" text-anchor="middle" >41.3 (20.5%)</text>
<text x="829.20" y="1212.40" font-size="13.75" font-family="'Liberation Serif', serif" font-style="italic" >v2v</text>
<text x="1003.20" y="1212.40" font-size="13.75" font-family="'Liberation Serif', serif" text-anchor="middle" >437(1.8%)</text>
<text x="1097.80" y="1212.40" font-size="13.75" font-family="'Liberation Serif', serif" text-anchor="middle" >42.9(17.1%)</text>
<text x="1356.20" y="777.70" font-size="13.75" font-family="'Liberation Serif', serif" text-anchor="middle" >Energy MAE</text>
<text x="1450.80" y="777.70" font-size="13.75" font-family="'Liberation Serif', serif" text-anchor="middle" >Force MAE</text>
<text x="1212.70" y="794.40" font-size="13.75" font-family="'Liberation Serif', serif" >Model</text>
<text x="1356.20" y="794.40" font-size="13.75" text-anchor="middle" xml:space="preserve" ><tspan font-family="'Liberation Serif', serif">meV </tspan><tspan font-family="'DejaVu Math TeX Gyre', 'DejaVu Sans', 'DejaVu Serif', serif" font-size="15.5">↓</tspan></text>
<text x="1450.80" y="794.40" font-size="13.75" text-anchor="middle" xml:space="preserve" ><tspan font-family="'Liberation Serif', serif">meV/Å </tspan><tspan font-family="'DejaVu Math TeX Gyre', 'DejaVu Sans', 'DejaVu Serif', serif" font-size="15.5">↓</tspan></text>
<line x1="1206.30" y1="801.90" x2="1494.60" y2="801.90" stroke="#666" stroke-width="0.8" />
<line x1="1206.30" y1="804.80" x2="1494.60" y2="804.80" stroke="#666" stroke-width="0.8" />
<text x="1212.70" y="819.45" font-size="13.75" xml:space="preserve" ><tspan font-family="'Liberation Serif', serif" font-style="italic">S</tspan><tspan font-family="'Liberation Serif', serif">: PaiNN-small</tspan></text>
<text x="1356.20" y="819.45" font-size="13.75" font-family="'Liberation Serif', serif" text-anchor="middle" >104.0</text>
<text x="1450.80" y="819.45" font-size="13.75" font-family="'Liberation Serif', serif" text-anchor="middle" >80.9</text>
<text x="1212.70" y="834.50" font-size="13.75" xml:space="preserve" ><tspan font-family="'Liberation Serif', serif" font-style="italic">T</tspan><tspan font-family="'Liberation Serif', serif">: PaiNN</tspan></text>
<text x="1356.20" y="834.50" font-size="13.75" font-family="'Liberation Serif', serif" text-anchor="middle" >85.8</text>
<text x="1450.80" y="834.50" font-size="13.75" font-family="'Liberation Serif', serif" text-anchor="middle" >64.1</text>
<line x1="1210.50" y1="841.40" x2="1492.00" y2="841.40" stroke="#555" stroke-width="0.8" stroke-dasharray="5.95,5.2"/>
<text x="1212.70" y="856.20" font-size="13.75" font-family="'Liberation Serif', serif" font-style="italic" >Vanilla (1)</text>
<text x="1356.20" y="856.20" font-size="13.75" font-family="'Liberation Serif', serif" text-anchor="middle" >106.1(-11.5%)</text>
<text x="1450.80" y="856.20" font-size="13.75" font-family="'Liberation Serif', serif" text-anchor="middle" >82.0(-6.5%)</text>
<text x="1212.70" y="871.20" font-size="13.75" font-family="'Liberation Serif', serif" font-style="italic" >Vanilla (2)</text>
<text x="1356.20" y="871.20" font-size="13.75" font-family="'Liberation Serif', serif" font-weight="bold" text-anchor="middle" >86.4 (96.7%)</text>
<text x="1450.80" y="871.20" font-size="13.75" font-family="'Liberation Serif', serif" text-anchor="middle" >80.9(0%)</text>
<text x="1212.70" y="886.20" font-size="13.75" font-family="'Liberation Serif', serif" font-style="italic" >n2n</text>
<text x="1356.20" y="886.20" font-size="13.75" font-family="'Liberation Serif', serif" text-anchor="middle" >92.5(63.2%)</text>
<text x="1450.80" y="886.20" font-size="13.75" font-family="'Liberation Serif', serif" text-anchor="middle" >77.8(18.5%)</text>
<text x="1212.70" y="901.30" font-size="13.75" font-family="'Liberation Serif', serif" font-style="italic" >v2v</text>
<text x="1356.20" y="901.30" font-size="13.75" font-family="'Liberation Serif', serif" text-anchor="middle" >90.4(74.7%)</text>
<text x="1450.80" y="901.30" font-size="13.75" font-family="'Liberation Serif', serif" font-weight="bold" text-anchor="middle" >70.4 (62.5%)</text>
<line x1="1206.30" y1="908.20" x2="1494.60" y2="908.20" stroke="#555" stroke-width="0.6" />
<text x="1212.70" y="923.30" font-size="13.75" xml:space="preserve" ><tspan font-family="'Liberation Serif', serif" font-style="italic">S</tspan><tspan font-family="'Liberation Serif', serif">: SchNet</tspan></text>
<text x="1356.20" y="923.30" font-size="13.75" font-family="'Liberation Serif', serif" text-anchor="middle" >146.5</text>
<text x="1450.80" y="923.30" font-size="13.75" font-family="'Liberation Serif', serif" text-anchor="middle" >121.2</text>
<text x="1212.70" y="938.30" font-size="13.75" xml:space="preserve" ><tspan font-family="'Liberation Serif', serif" font-style="italic">T</tspan><tspan font-family="'Liberation Serif', serif">: PaiNN</tspan></text>
<text x="1356.20" y="938.30" font-size="13.75" font-family="'Liberation Serif', serif" text-anchor="middle" >85.8</text>
<text x="1450.80" y="938.30" font-size="13.75" font-family="'Liberation Serif', serif" text-anchor="middle" >64.1</text>
<line x1="1210.50" y1="945.30" x2="1492.00" y2="945.30" stroke="#555" stroke-width="0.8" stroke-dasharray="5.95,5.2"/>
<text x="1212.70" y="959.50" font-size="13.75" font-family="'Liberation Serif', serif" font-style="italic" >Vanilla (1)</text>
<text x="1356.20" y="959.50" font-size="13.75" font-family="'Liberation Serif', serif" text-anchor="middle" >146.1(0.7%)</text>
<text x="1450.80" y="959.50" font-size="13.75" font-family="'Liberation Serif', serif" text-anchor="middle" >120.8(0.7%)</text>
<text x="1212.70" y="974.60" font-size="13.75" font-family="'Liberation Serif', serif" font-style="italic" >Vanilla (2)</text>
<text x="1356.20" y="974.60" font-size="13.75" font-family="'Liberation Serif', serif" font-weight="bold" text-anchor="middle" >104.1 (69.9%)</text>
<text x="1450.80" y="974.60" font-size="13.75" font-family="'Liberation Serif', serif" text-anchor="middle" >120.9(0.5%)</text>
<text x="1212.70" y="989.80" font-size="13.75" font-family="'Liberation Serif', serif" font-style="italic" >n2n</text>
<text x="1356.20" y="989.80" font-size="13.75" font-family="'Liberation Serif', serif" text-anchor="middle" >141.6(8.1%)</text>
<text x="1450.80" y="989.80" font-size="13.75" font-family="'Liberation Serif', serif" font-weight="bold" text-anchor="middle" >117.2 (7.0%)</text>
<line x1="1206.30" y1="996.60" x2="1494.60" y2="996.60" stroke="#555" stroke-width="0.6" />
<text x="1212.70" y="1011.90" font-size="13.75" xml:space="preserve" ><tspan font-family="'Liberation Serif', serif" font-style="italic">S</tspan><tspan font-family="'Liberation Serif', serif">: PaiNN</tspan></text>
<text x="1356.20" y="1011.90" font-size="13.75" font-family="'Liberation Serif', serif" text-anchor="middle" >85.8</text>
<text x="1450.80" y="1011.90" font-size="13.75" font-family="'Liberation Serif', serif" text-anchor="middle" >64.1</text>
<text x="1212.70" y="1027.00" font-size="13.75" xml:space="preserve" ><tspan font-family="'Liberation Serif', serif" font-style="italic">T</tspan><tspan font-family="'Liberation Serif', serif">: GemNet-OC</tspan></text>
<text x="1356.20" y="1027.00" font-size="13.75" font-family="'Liberation Serif', serif" text-anchor="middle" >44.8</text>
<text x="1450.80" y="1027.00" font-size="13.75" font-family="'Liberation Serif', serif" text-anchor="middle" >38.2</text>
<line x1="1210.50" y1="1033.50" x2="1492.00" y2="1033.50" stroke="#555" stroke-width="0.8" stroke-dasharray="5.95,5.2"/>
<text x="1212.70" y="1048.50" font-size="13.75" font-family="'Liberation Serif', serif" font-style="italic" >Vanilla (1)</text>
<text x="1356.20" y="1048.50" font-size="13.75" font-family="'Liberation Serif', serif" text-anchor="middle" >86.2(-1.1%)</text>
<text x="1450.80" y="1048.50" font-size="13.75" font-family="'Liberation Serif', serif" text-anchor="middle" >63.9(0.6%)</text>
<text x="1212.70" y="1063.60" font-size="13.75" font-family="'Liberation Serif', serif" font-style="italic" >Vanilla (2)</text>
<text x="1356.20" y="1063.60" font-size="13.75" font-family="'Liberation Serif', serif" text-anchor="middle" >61.4(59.5%)</text>
<text x="1450.80" y="1063.60" font-size="13.75" font-family="'Liberation Serif', serif" text-anchor="middle" >62.9(4.6%)</text>
<text x="1212.70" y="1078.70" font-size="13.75" font-family="'Liberation Serif', serif" font-style="italic" >n2n</text>
<text x="1356.20" y="1078.70" font-size="13.75" font-family="'Liberation Serif', serif" font-weight="bold" text-anchor="middle" >60.4 (62.0%)</text>
<text x="1450.80" y="1078.70" font-size="13.75" font-family="'Liberation Serif', serif" font-weight="bold" text-anchor="middle" >61.2 (11.3%)</text>
<text x="1212.70" y="1093.80" font-size="13.75" font-family="'Liberation Serif', serif" font-style="italic" >e2n</text>
<text x="1356.20" y="1093.80" font-size="13.75" font-family="'Liberation Serif', serif" text-anchor="middle" >77.3(20.8%)</text>
<text x="1450.80" y="1093.80" font-size="13.75" font-family="'Liberation Serif', serif" text-anchor="middle" >63.3(3.0%)</text>
<text x="1212.70" y="1108.90" font-size="13.75" font-family="'Liberation Serif', serif" font-style="italic" >v2v</text>
<text x="1356.20" y="1108.90" font-size="13.75" font-family="'Liberation Serif', serif" text-anchor="middle" >81.2(11.2%)</text>
<text x="1450.80" y="1108.90" font-size="13.75" font-family="'Liberation Serif', serif" text-anchor="middle" >63.3(3.1%)</text>
<text x="1219.00" y="1151.00" font-size="13.33" word-spacing="0.899" fill="#222" xml:space="preserve"><tspan font-family="'Liberation Sans', sans-serif" font-weight="bold">Numbers in bracket</tspan><tspan font-family="'Liberation Sans', sans-serif">s represent the proportion</tspan></text>
<text x="1219.00" y="1167.80" font-size="13.33" word-spacing="3.611" fill="#222" xml:space="preserve"><tspan font-family="'Liberation Sans', sans-serif">of the gap between the student (</tspan><tspan font-family="'Liberation Sans', sans-serif" font-weight="bold" font-style="italic">S</tspan><tspan font-family="'Liberation Sans', sans-serif">) and the</tspan></text>
<text x="1219.00" y="1184.50" font-size="13.33" word-spacing="7.095" fill="#222" xml:space="preserve"><tspan font-family="'Liberation Sans', sans-serif">teacher (</tspan><tspan font-family="'Liberation Sans', sans-serif" font-weight="bold" font-style="italic">T</tspan><tspan font-family="'Liberation Sans', sans-serif">) that has been closed by the</tspan></text>
<text x="1219.00" y="1201.20" font-size="13.33" font-family="'Liberation Sans', sans-serif" fill="#222" >respective KD strategy (in %).</text>
<text x="1798.00" y="300.50" font-size="22.15" font-family="'Liberation Sans', sans-serif" font-weight="bold" >Distilling molecular GNNs:</text>
<text x="1659.30" y="328.40" font-size="22.18" font-family="'DejaVu Sans', sans-serif" >Improved accuracy while maintaining throughput!</text>
<path d="M1703.2,447.2 V378.4 H1949.5 V447.2" fill="none" stroke="#333" stroke-width="0.8"/>
<path d="M1703.2,461.7 V530.2 H1949.5 V461.7" fill="none" stroke="#333" stroke-width="0.8"/>
<line x1="1699.20" y1="448.20" x2="1707.20" y2="446.20" stroke="#333" stroke-width="0.9" />
<line x1="1699.20" y1="462.70" x2="1707.20" y2="460.70" stroke="#333" stroke-width="0.9" />
<line x1="1945.50" y1="448.20" x2="1953.50" y2="446.20" stroke="#333" stroke-width="0.9" />
<line x1="1945.50" y1="462.70" x2="1953.50" y2="460.70" stroke="#333" stroke-width="0.9" />
<line x1="1735.20" y1="530.20" x2="1735.20" y2="533.20" stroke="#333" stroke-width="0.8" />
<line x1="1735.20" y1="378.40" x2="1735.20" y2="375.80" stroke="#333" stroke-width="0.8" />
<text x="1735.20" y="543.30" font-size="8.8" font-family="'DejaVu Sans', sans-serif" fill="#222" text-anchor="middle" >200</text>
<line x1="1780.40" y1="530.20" x2="1780.40" y2="533.20" stroke="#333" stroke-width="0.8" />
<line x1="1780.40" y1="378.40" x2="1780.40" y2="375.80" stroke="#333" stroke-width="0.8" />
<text x="1780.40" y="543.30" font-size="8.8" font-family="'DejaVu Sans', sans-serif" fill="#222" text-anchor="middle" >400</text>
<line x1="1825.60" y1="530.20" x2="1825.60" y2="533.20" stroke="#333" stroke-width="0.8" />
<line x1="1825.60" y1="378.40" x2="1825.60" y2="375.80" stroke="#333" stroke-width="0.8" />
<text x="1825.60" y="543.30" font-size="8.8" font-family="'DejaVu Sans', sans-serif" fill="#222" text-anchor="middle" >600</text>
<line x1="1870.70" y1="530.20" x2="1870.70" y2="533.20" stroke="#333" stroke-width="0.8" />
<line x1="1870.70" y1="378.40" x2="1870.70" y2="375.80" stroke="#333" stroke-width="0.8" />
<text x="1870.70" y="543.30" font-size="8.8" font-family="'DejaVu Sans', sans-serif" fill="#222" text-anchor="middle" >800</text>
<line x1="1915.90" y1="530.20" x2="1915.90" y2="533.20" stroke="#333" stroke-width="0.8" />
<line x1="1915.90" y1="378.40" x2="1915.90" y2="375.80" stroke="#333" stroke-width="0.8" />
<text x="1915.90" y="543.30" font-size="8.8" font-family="'DejaVu Sans', sans-serif" fill="#222" text-anchor="middle" >1000</text>
<line x1="1700.20" y1="378.40" x2="1703.20" y2="378.40" stroke="#333" stroke-width="0.8" />
<text x="1697.20" y="381.60" font-size="8.8" font-family="'DejaVu Sans', sans-serif" fill="#222" text-anchor="end" >1400</text>
<line x1="1700.20" y1="405.90" x2="1703.20" y2="405.90" stroke="#333" stroke-width="0.8" />
<text x="1697.20" y="409.10" font-size="8.8" font-family="'DejaVu Sans', sans-serif" fill="#222" text-anchor="end" >1300</text>
<line x1="1700.20" y1="433.50" x2="1703.20" y2="433.50" stroke="#333" stroke-width="0.8" />
<text x="1697.20" y="436.70" font-size="8.8" font-family="'DejaVu Sans', sans-serif" fill="#222" text-anchor="end" >1200</text>
<line x1="1700.20" y1="461.70" x2="1703.20" y2="461.70" stroke="#333" stroke-width="0.8" />
<text x="1697.20" y="464.90" font-size="8.8" font-family="'DejaVu Sans', sans-serif" fill="#222" text-anchor="end" >500</text>
<line x1="1700.20" y1="489.20" x2="1703.20" y2="489.20" stroke="#333" stroke-width="0.8" />
<text x="1697.20" y="492.40" font-size="8.8" font-family="'DejaVu Sans', sans-serif" fill="#222" text-anchor="end" >400</text>
<line x1="1700.20" y1="516.80" x2="1703.20" y2="516.80" stroke="#333" stroke-width="0.8" />
<text x="1697.20" y="520.00" font-size="8.8" font-family="'DejaVu Sans', sans-serif" fill="#222" text-anchor="end" >300</text>
<text x="1823.60" y="559.40" font-size="8.8" font-family="'DejaVu Sans', sans-serif" fill="#222" text-anchor="middle" >Inference throughput</text>
<text x="1823.60" y="569.60" font-size="8.8" font-family="'DejaVu Sans', sans-serif" fill="#222" text-anchor="middle" >(samples/s)</text>
<text transform="translate(1664.6,451) rotate(-90)" text-anchor="middle" font-size="8.8" font-family="'DejaVu Sans', sans-serif" fill="#222">Energy MAE (meV)</text>
<circle cx="1714.10" cy="520.60" r="2.90" fill="#1f77b4" />
<circle cx="1725.90" cy="504.60" r="2.90" fill="#ff7f0e" />
<path d="M1723.4,511.70000000000005 L1728.4,516.7 M1723.4,516.7 L1728.4,511.70000000000005" stroke="#ff7f0e" stroke-width="1.1" stroke-opacity="0.55" fill="none"/>
<circle cx="1749.60" cy="477.70" r="2.90" fill="#2ca02c" />
<path d="M1747.1,501.4 L1752.1,506.4 M1747.1,506.4 L1752.1,501.4" stroke="#2ca02c" stroke-width="1.1" stroke-opacity="0.55" fill="none"/>
<circle cx="1843.50" cy="464.20" r="2.90" fill="#d62728" />
<path d="M1841.0,470.7 L1846.0,475.7 M1841.0,475.7 L1846.0,470.7" stroke="#d62728" stroke-width="1.1" stroke-opacity="0.55" fill="none"/>
<circle cx="1938.30" cy="403.70" r="2.90" fill="#9467bd" />
<path d="M1935.8,427.1 L1940.8,432.1 M1935.8,432.1 L1940.8,427.1" stroke="#9467bd" stroke-width="1.1" stroke-opacity="0.55" fill="none"/>
<rect x="1994.4" y="391.2" width="223" height="124.3" rx="1.5" fill="#ede8ee" stroke="#d6d2d8" stroke-width="0.8"/>
<circle cx="2006.20" cy="399.40" r="2.90" fill="#1f77b4" />
<text x="2022.30" y="402.00" font-size="8.83" font-family="'DejaVu Sans', sans-serif" fill="#222" >GemNet-OC</text>
<circle cx="2006.20" cy="412.80" r="2.90" fill="#ff7f0e" />
<text x="2022.30" y="415.40" font-size="8.83" font-family="'DejaVu Sans', sans-serif" fill="#222" >GemNet-OC-small</text>
<path d="M2003.7,423.8 L2008.7,428.8 M2003.7,428.8 L2008.7,423.8" stroke="#ff7f0e" stroke-width="1.1" stroke-opacity="0.55" fill="none"/>
<text x="2022.30" y="428.90" font-size="8.83" font-family="'DejaVu Sans', sans-serif" fill="#222" >GemNet-OC-small (+ KD from GemNet-OC)</text>
<circle cx="2006.20" cy="439.70" r="2.90" fill="#2ca02c" />
<text x="2022.30" y="442.30" font-size="8.83" font-family="'DejaVu Sans', sans-serif" fill="#222" >PaiNN</text>
<path d="M2003.7,450.7 L2008.7,455.7 M2003.7,455.7 L2008.7,450.7" stroke="#2ca02c" stroke-width="1.1" stroke-opacity="0.55" fill="none"/>
<text x="2022.30" y="455.80" font-size="8.83" font-family="'DejaVu Sans', sans-serif" fill="#222" >PaiNN (+ KD from GemNet-OC)</text>
<circle cx="2006.20" cy="466.60" r="2.90" fill="#d62728" />
<text x="2022.30" y="469.20" font-size="8.83" font-family="'DejaVu Sans', sans-serif" fill="#222" >PaiNN-small</text>
<path d="M2003.7,477.9 L2008.7,482.9 M2003.7,482.9 L2008.7,477.9" stroke="#d62728" stroke-width="1.1" stroke-opacity="0.55" fill="none"/>
<text x="2022.30" y="483.00" font-size="8.83" font-family="'DejaVu Sans', sans-serif" fill="#222" >PaiNN-small (+ KD from PaiNN)</text>
<circle cx="2006.20" cy="493.90" r="2.90" fill="#9467bd" />
<text x="2022.30" y="496.50" font-size="8.83" font-family="'DejaVu Sans', sans-serif" fill="#222" >SchNet</text>
<path d="M2003.7,504.8 L2008.7,509.8 M2003.7,509.8 L2008.7,504.8" stroke="#9467bd" stroke-width="1.1" stroke-opacity="0.55" fill="none"/>
<text x="2022.30" y="509.90" font-size="8.83" font-family="'DejaVu Sans', sans-serif" fill="#222" >SchNet (+ KD from PaiNN)</text>
<text x="1585.90" y="688.80" font-size="19.9" font-family="'Liberation Sans', sans-serif" font-weight="bold" font-style="italic" >Future work</text>
<text x="1585.90" y="708.00" font-size="13.46" font-family="'Liberation Sans', sans-serif" >- Combine KD protocols - e.g., n2n + v2v.</text>
<text x="1585.90" y="724.50" font-size="13.46" font-family="'Liberation Sans', sans-serif" >- Extend the framework to other types of features, molecular tasks and datasets.</text>
<text x="1585.90" y="741.30" font-size="13.46" font-family="'Liberation Sans', sans-serif" >- More advanced KD protocols that respect the expressivity of different models.</text>
<text x="1585.90" y="757.80" font-size="13.46" font-family="'Liberation Sans', sans-serif" >- Improve theoretical understanding of KD and the role of model similarity.</text>
<text x="1585.90" y="774.70" font-size="13.46" font-family="'Liberation Sans', sans-serif" >- More comprehensive stability analysis.</text>
<text x="1585.90" y="810.10" font-size="19.9" font-family="'Liberation Sans', sans-serif" font-weight="bold" font-style="italic" >Limitations</text>
<text x="1585.90" y="830.00" font-size="13.46" font-family="'Liberation Sans', sans-serif" >- Require a more competent (pre-trained) teacher model.</text>
<text x="1585.90" y="847.20" font-size="13.46" font-family="'Liberation Sans', sans-serif" >- Training time of student is inherently increased.</text>
<text x="1587.20" y="882.10" font-size="20.1" font-family="'Liberation Sans', sans-serif" font-weight="bold" font-style="italic" >Acknowledgements</text>
<g transform="translate(1586.8,0) scale(1.2,1)">
<text x="0.00" y="901.60" font-size="11" font-family="'DejaVu Sans', sans-serif" word-spacing="2.559" fill="#111">F.E.K. is supported by the Excellence Center at Linköping--Lund in Information Technology (ELLIIT).</text>
<text x="0.00" y="915.50" font-size="11" font-family="'DejaVu Sans', sans-serif" word-spacing="4.323" fill="#111">D.G. is supported by UK Research and Innovation [UKRI Centre for Doctoral Training in AI for</text>
<text x="0.00" y="929.40" font-size="11" font-family="'DejaVu Sans', sans-serif" word-spacing="4.343" fill="#111">Healthcare grant number EP/S023283/1]. Computing resources provided by: the Knut and Alice</text>
<text x="0.00" y="943.70" font-size="11" font-family="'DejaVu Sans', sans-serif" word-spacing="4.358" fill="#111">Wallenberg Foundation at the National Supercomputer Centre (Berzelius resource); the National</text>
<text x="0.00" y="957.60" font-size="11" font-family="'DejaVu Sans', sans-serif" word-spacing="1.059" fill="#111">Academic Infrastructure for Supercomputing in Sweden (NAISS) at Chalmers e-Commons at Chalmers</text>
<text x="0.00" y="971.50" font-size="11" font-family="'DejaVu Sans', sans-serif" word-spacing="1.756" fill="#111">(C3SE) partially funded by the Swedish Research Council through grant agreement no. 2022-06725;</text>
<text x="0.00" y="985.80" font-size="11" font-family="'DejaVu Sans', sans-serif" word-spacing="1.492" fill="#111">as well as the Chair of Aerodynamics and Fluid Mechanics at Technical University of Munich. We are</text>
<text x="0.00" y="999.70" font-size="11" font-family="'DejaVu Sans', sans-serif" word-spacing="0.481" fill="#111">grateful to the team behind 2022 London Geometry and Machine Learning Summer School, where this</text>
<text x="0.00" y="1013.60" font-size="11" font-family="'DejaVu Sans', sans-serif" word-spacing="0.914" fill="#111">research project was initially conceived. We thank Guocheng Qian and I-Ju Chen for their contribution</text>
<text x="0.00" y="1027.60" font-size="11" font-family="'DejaVu Sans', sans-serif" word-spacing="1.777" fill="#111">during the early stages of the project. We also thank the Open Catalyst team for their open-source</text>
<text x="0.00" y="1041.80" font-size="11" font-family="'DejaVu Sans', sans-serif" word-spacing="0.314" fill="#111">codebase, support and discussions, in particular, Muhammed Shuaibi for providing the COLL dataset in</text>
<text x="0.00" y="1055.70" font-size="11.1" font-family="'DejaVu Sans', sans-serif" fill="#111" >LMDB format.</text>
</g>
<text x="1827.60" y="1091.30" font-size="20.05" font-family="'Liberation Sans', sans-serif" font-weight="bold" font-style="italic" >Further resources</text>
<text x="1796.50" y="1208.60" font-size="17.4" font-family="'Liberation Sans', sans-serif" font-weight="bold" >Paper</text>
<text x="1994.90" y="1208.60" font-size="17.2" font-family="'Liberation Sans', sans-serif" font-weight="bold" >Code</text>
<path d="M1780.30,1107.20h20.69v3.00h-20.69zM1806.90,1107.20h8.87v3.00h-8.87zM1824.63,1107.20h8.87v3.00h-8.87zM1836.45,1107.20h2.96v3.00h-2.96zM1845.31,1107.20h20.69v3.00h-20.69zM1780.30,1110.15h2.96v3.00h-2.96zM1798.03,1110.15h2.96v3.00h-2.96zM1803.94,1110.15h5.91v3.00h-5.91zM1812.81,1110.15h5.91v3.00h-5.91zM1821.67,1110.15h2.96v3.00h-2.96zM1830.54,1110.15h2.96v3.00h-2.96zM1839.40,1110.15h2.96v3.00h-2.96zM1845.31,1110.15h2.96v3.00h-2.96zM1863.04,1110.15h2.96v3.00h-2.96zM1780.30,1113.10h2.96v3.00h-2.96zM1786.21,1113.10h8.87v3.00h-8.87zM1798.03,1113.10h2.96v3.00h-2.96zM1803.94,1113.10h8.87v3.00h-8.87zM1818.72,1113.10h11.82v3.00h-11.82zM1839.40,1113.10h2.96v3.00h-2.96zM1845.31,1113.10h2.96v3.00h-2.96zM1851.22,1113.10h8.87v3.00h-8.87zM1863.04,1113.10h2.96v3.00h-2.96zM1780.30,1116.04h2.96v3.00h-2.96zM1786.21,1116.04h8.87v3.00h-8.87zM1798.03,1116.04h2.96v3.00h-2.96zM1812.81,1116.04h8.87v3.00h-8.87zM1827.58,1116.04h5.91v3.00h-5.91zM1836.45,1116.04h5.91v3.00h-5.91zM1845.31,1116.04h2.96v3.00h-2.96zM1851.22,1116.04h8.87v3.00h-8.87zM1863.04,1116.04h2.96v3.00h-2.96zM1780.30,1118.99h2.96v3.00h-2.96zM1786.21,1118.99h8.87v3.00h-8.87zM1798.03,1118.99h2.96v3.00h-2.96zM1806.90,1118.99h2.96v3.00h-2.96zM1821.67,1118.99h2.96v3.00h-2.96zM1827.58,1118.99h5.91v3.00h-5.91zM1836.45,1118.99h2.96v3.00h-2.96zM1845.31,1118.99h2.96v3.00h-2.96zM1851.22,1118.99h8.87v3.00h-8.87zM1863.04,1118.99h2.96v3.00h-2.96zM1780.30,1121.94h2.96v3.00h-2.96zM1798.03,1121.94h2.96v3.00h-2.96zM1806.90,1121.94h8.87v3.00h-8.87zM1821.67,1121.94h2.96v3.00h-2.96zM1827.58,1121.94h2.96v3.00h-2.96zM1836.45,1121.94h2.96v3.00h-2.96zM1845.31,1121.94h2.96v3.00h-2.96zM1863.04,1121.94h2.96v3.00h-2.96zM1780.30,1124.89h20.69v3.00h-20.69zM1803.94,1124.89h2.96v3.00h-2.96zM1809.85,1124.89h2.96v3.00h-2.96zM1815.76,1124.89h2.96v3.00h-2.96zM1821.67,1124.89h2.96v3.00h-2.96zM1827.58,1124.89h2.96v3.00h-2.96zM1833.49,1124.89h2.96v3.00h-2.96zM1839.40,1124.89h2.96v3.00h-2.96zM1845.31,1124.89h20.69v3.00h-20.69zM1824.63,1127.84h2.96v3.00h-2.96zM1830.54,1127.84h11.82v3.00h-11.82zM1783.26,1130.79h8.87v3.00h-8.87zM1795.08,1130.79h5.91v3.00h-5.91zM1809.85,1130.79h8.87v3.00h-8.87zM1824.63,1130.79h8.87v3.00h-8.87zM1836.45,1130.79h2.96v3.00h-2.96zM1857.13,1130.79h5.91v3.00h-5.91zM1780.30,1133.73h17.73v3.00h-17.73zM1800.99,1133.73h2.96v3.00h-2.96zM1806.90,1133.73h2.96v3.00h-2.96zM1824.63,1133.73h8.87v3.00h-8.87zM1836.45,1133.73h2.96v3.00h-2.96zM1845.31,1133.73h2.96v3.00h-2.96zM1851.22,1133.73h8.87v3.00h-8.87zM1863.04,1133.73h2.96v3.00h-2.96zM1780.30,1136.68h5.91v3.00h-5.91zM1789.17,1136.68h2.96v3.00h-2.96zM1795.08,1136.68h8.87v3.00h-8.87zM1815.76,1136.68h5.91v3.00h-5.91zM1827.58,1136.68h5.91v3.00h-5.91zM1839.40,1136.68h2.96v3.00h-2.96zM1845.31,1136.68h2.96v3.00h-2.96zM1851.22,1136.68h5.91v3.00h-5.91zM1860.09,1136.68h2.96v3.00h-2.96zM1780.30,1139.63h11.82v3.00h-11.82zM1795.08,1139.63h2.96v3.00h-2.96zM1806.90,1139.63h2.96v3.00h-2.96zM1815.76,1139.63h2.96v3.00h-2.96zM1824.63,1139.63h2.96v3.00h-2.96zM1833.49,1139.63h2.96v3.00h-2.96zM1839.40,1139.63h2.96v3.00h-2.96zM1848.27,1139.63h5.91v3.00h-5.91zM1863.04,1139.63h2.96v3.00h-2.96zM1786.21,1142.58h2.96v3.00h-2.96zM1795.08,1142.58h8.87v3.00h-8.87zM1806.90,1142.58h11.82v3.00h-11.82zM1821.67,1142.58h11.82v3.00h-11.82zM1839.40,1142.58h5.91v3.00h-5.91zM1848.27,1142.58h2.96v3.00h-2.96zM1857.13,1142.58h8.87v3.00h-8.87zM1780.30,1145.53h8.87v3.00h-8.87zM1800.99,1145.53h5.91v3.00h-5.91zM1809.85,1145.53h8.87v3.00h-8.87zM1824.63,1145.53h14.78v3.00h-14.78zM1845.31,1145.53h5.91v3.00h-5.91zM1854.18,1145.53h5.91v3.00h-5.91zM1863.04,1145.53h2.96v3.00h-2.96zM1780.30,1148.48h2.96v3.00h-2.96zM1789.17,1148.48h2.96v3.00h-2.96zM1798.03,1148.48h5.91v3.00h-5.91zM1815.76,1148.48h8.87v3.00h-8.87zM1833.49,1148.48h8.87v3.00h-8.87zM1845.31,1148.48h11.82v3.00h-11.82zM1863.04,1148.48h2.96v3.00h-2.96zM1789.17,1151.42h2.96v3.00h-2.96zM1800.99,1151.42h5.91v3.00h-5.91zM1821.67,1151.42h8.87v3.00h-8.87zM1833.49,1151.42h2.96v3.00h-2.96zM1842.36,1151.42h5.91v3.00h-5.91zM1851.22,1151.42h5.91v3.00h-5.91zM1863.04,1151.42h2.96v3.00h-2.96zM1783.26,1154.37h5.91v3.00h-5.91zM1798.03,1154.37h2.96v3.00h-2.96zM1806.90,1154.37h8.87v3.00h-8.87zM1818.72,1154.37h2.96v3.00h-2.96zM1824.63,1154.37h2.96v3.00h-2.96zM1848.27,1154.37h8.87v3.00h-8.87zM1860.09,1154.37h2.96v3.00h-2.96zM1786.21,1157.32h2.96v3.00h-2.96zM1795.08,1157.32h2.96v3.00h-2.96zM1800.99,1157.32h5.91v3.00h-5.91zM1812.81,1157.32h2.96v3.00h-2.96zM1818.72,1157.32h2.96v3.00h-2.96zM1827.58,1157.32h2.96v3.00h-2.96zM1833.49,1157.32h2.96v3.00h-2.96zM1842.36,1157.32h2.96v3.00h-2.96zM1854.18,1157.32h2.96v3.00h-2.96zM1780.30,1160.27h2.96v3.00h-2.96zM1789.17,1160.27h2.96v3.00h-2.96zM1795.08,1160.27h8.87v3.00h-8.87zM1812.81,1160.27h14.78v3.00h-14.78zM1830.54,1160.27h2.96v3.00h-2.96zM1845.31,1160.27h5.91v3.00h-5.91zM1854.18,1160.27h2.96v3.00h-2.96zM1795.08,1163.22h2.96v3.00h-2.96zM1812.81,1163.22h2.96v3.00h-2.96zM1830.54,1163.22h2.96v3.00h-2.96zM1839.40,1163.22h11.82v3.00h-11.82zM1854.18,1163.22h5.91v3.00h-5.91zM1783.26,1166.17h2.96v3.00h-2.96zM1798.03,1166.17h2.96v3.00h-2.96zM1803.94,1166.17h17.73v3.00h-17.73zM1824.63,1166.17h2.96v3.00h-2.96zM1830.54,1166.17h2.96v3.00h-2.96zM1836.45,1166.17h23.64v3.00h-23.64zM1863.04,1166.17h2.96v3.00h-2.96zM1803.94,1169.11h2.96v3.00h-2.96zM1809.85,1169.11h2.96v3.00h-2.96zM1815.76,1169.11h2.96v3.00h-2.96zM1821.67,1169.11h2.96v3.00h-2.96zM1827.58,1169.11h8.87v3.00h-8.87zM1839.40,1169.11h2.96v3.00h-2.96zM1851.22,1169.11h5.91v3.00h-5.91zM1860.09,1169.11h5.91v3.00h-5.91zM1780.30,1172.06h20.69v3.00h-20.69zM1821.67,1172.06h2.96v3.00h-2.96zM1827.58,1172.06h5.91v3.00h-5.91zM1836.45,1172.06h5.91v3.00h-5.91zM1845.31,1172.06h2.96v3.00h-2.96zM1851.22,1172.06h2.96v3.00h-2.96zM1857.13,1172.06h5.91v3.00h-5.91zM1780.30,1175.01h2.96v3.00h-2.96zM1798.03,1175.01h2.96v3.00h-2.96zM1803.94,1175.01h5.91v3.00h-5.91zM1815.76,1175.01h2.96v3.00h-2.96zM1824.63,1175.01h2.96v3.00h-2.96zM1839.40,1175.01h2.96v3.00h-2.96zM1851.22,1175.01h2.96v3.00h-2.96zM1780.30,1177.96h2.96v3.00h-2.96zM1786.21,1177.96h8.87v3.00h-8.87zM1798.03,1177.96h2.96v3.00h-2.96zM1812.81,1177.96h11.82v3.00h-11.82zM1827.58,1177.96h8.87v3.00h-8.87zM1839.40,1177.96h23.64v3.00h-23.64zM1780.30,1180.91h2.96v3.00h-2.96zM1786.21,1180.91h8.87v3.00h-8.87zM1798.03,1180.91h2.96v3.00h-2.96zM1803.94,1180.91h11.82v3.00h-11.82zM1818.72,1180.91h2.96v3.00h-2.96zM1824.63,1180.91h2.96v3.00h-2.96zM1833.49,1180.91h5.91v3.00h-5.91zM1851.22,1180.91h2.96v3.00h-2.96zM1857.13,1180.91h2.96v3.00h-2.96zM1863.04,1180.91h2.96v3.00h-2.96zM1780.30,1183.86h2.96v3.00h-2.96zM1786.21,1183.86h8.87v3.00h-8.87zM1798.03,1183.86h2.96v3.00h-2.96zM1803.94,1183.86h2.96v3.00h-2.96zM1812.81,1183.86h2.96v3.00h-2.96zM1818.72,1183.86h5.91v3.00h-5.91zM1830.54,1183.86h5.91v3.00h-5.91zM1839.40,1183.86h2.96v3.00h-2.96zM1848.27,1183.86h2.96v3.00h-2.96zM1854.18,1183.86h5.91v3.00h-5.91zM1863.04,1183.86h2.96v3.00h-2.96zM1780.30,1186.80h2.96v3.00h-2.96zM1798.03,1186.80h2.96v3.00h-2.96zM1803.94,1186.80h2.96v3.00h-2.96zM1809.85,1186.80h8.87v3.00h-8.87zM1824.63,1186.80h2.96v3.00h-2.96zM1833.49,1186.80h11.82v3.00h-11.82zM1851.22,1186.80h5.91v3.00h-5.91zM1860.09,1186.80h2.96v3.00h-2.96zM1780.30,1189.75h20.69v3.00h-20.69zM1806.90,1189.75h2.96v3.00h-2.96zM1821.67,1189.75h2.96v3.00h-2.96zM1833.49,1189.75h2.96v3.00h-2.96zM1839.40,1189.75h11.82v3.00h-11.82zM1854.18,1189.75h2.96v3.00h-2.96zM1860.09,1189.75h2.96v3.00h-2.96z" fill="#000"/>
<path d="M1971.90,1106.40h18.09v2.64h-18.09zM1992.58,1106.40h2.58v2.64h-2.58zM2000.33,1106.40h10.34v2.64h-10.34zM2028.77,1106.40h2.58v2.64h-2.58zM2039.11,1106.40h18.09v2.64h-18.09zM1971.90,1108.99h2.58v2.64h-2.58zM1987.41,1108.99h2.58v2.64h-2.58zM1995.16,1108.99h2.58v2.64h-2.58zM2000.33,1108.99h5.17v2.64h-5.17zM2015.84,1108.99h5.17v2.64h-5.17zM2023.60,1108.99h7.75v2.64h-7.75zM2033.94,1108.99h2.58v2.64h-2.58zM2039.11,1108.99h2.58v2.64h-2.58zM2054.62,1108.99h2.58v2.64h-2.58zM1971.90,1111.58h2.58v2.64h-2.58zM1977.07,1111.58h7.75v2.64h-7.75zM1987.41,1111.58h2.58v2.64h-2.58zM1992.58,1111.58h7.75v2.64h-7.75zM2002.92,1111.58h5.17v2.64h-5.17zM2013.26,1111.58h15.51v2.64h-15.51zM2031.35,1111.58h2.58v2.64h-2.58zM2039.11,1111.58h2.58v2.64h-2.58zM2044.28,1111.58h7.75v2.64h-7.75zM2054.62,1111.58h2.58v2.64h-2.58zM1971.90,1114.16h2.58v2.64h-2.58zM1977.07,1114.16h7.75v2.64h-7.75zM1987.41,1114.16h2.58v2.64h-2.58zM1997.75,1114.16h2.58v2.64h-2.58zM2010.67,1114.16h2.58v2.64h-2.58zM2015.84,1114.16h5.17v2.64h-5.17zM2028.77,1114.16h2.58v2.64h-2.58zM2039.11,1114.16h2.58v2.64h-2.58zM2044.28,1114.16h7.75v2.64h-7.75zM2054.62,1114.16h2.58v2.64h-2.58zM1971.90,1116.75h2.58v2.64h-2.58zM1977.07,1116.75h7.75v2.64h-7.75zM1987.41,1116.75h2.58v2.64h-2.58zM2000.33,1116.75h5.17v2.64h-5.17zM2010.67,1116.75h2.58v2.64h-2.58zM2015.84,1116.75h5.17v2.64h-5.17zM2023.60,1116.75h7.75v2.64h-7.75zM2033.94,1116.75h2.58v2.64h-2.58zM2039.11,1116.75h2.58v2.64h-2.58zM2044.28,1116.75h7.75v2.64h-7.75zM2054.62,1116.75h2.58v2.64h-2.58zM1971.90,1119.34h2.58v2.64h-2.58zM1987.41,1119.34h2.58v2.64h-2.58zM1992.58,1119.34h2.58v2.64h-2.58zM1997.75,1119.34h5.17v2.64h-5.17zM2005.50,1119.34h7.75v2.64h-7.75zM2015.84,1119.34h2.58v2.64h-2.58zM2026.18,1119.34h2.58v2.64h-2.58zM2039.11,1119.34h2.58v2.64h-2.58zM2054.62,1119.34h2.58v2.64h-2.58zM1971.90,1121.93h18.09v2.64h-18.09zM1992.58,1121.93h2.58v2.64h-2.58zM1997.75,1121.93h2.58v2.64h-2.58zM2002.92,1121.93h2.58v2.64h-2.58zM2008.09,1121.93h2.58v2.64h-2.58zM2013.26,1121.93h2.58v2.64h-2.58zM2018.43,1121.93h2.58v2.64h-2.58zM2023.60,1121.93h2.58v2.64h-2.58zM2028.77,1121.93h2.58v2.64h-2.58zM2033.94,1121.93h2.58v2.64h-2.58zM2039.11,1121.93h18.09v2.64h-18.09zM1995.16,1124.52h7.75v2.64h-7.75zM2008.09,1124.52h2.58v2.64h-2.58zM2013.26,1124.52h2.58v2.64h-2.58zM2018.43,1124.52h2.58v2.64h-2.58zM2023.60,1124.52h2.58v2.64h-2.58zM2031.35,1124.52h5.17v2.64h-5.17zM1971.90,1127.10h2.58v2.64h-2.58zM1977.07,1127.10h2.58v2.64h-2.58zM1987.41,1127.10h5.17v2.64h-5.17zM2000.33,1127.10h2.58v2.64h-2.58zM2008.09,1127.10h2.58v2.64h-2.58zM2013.26,1127.10h2.58v2.64h-2.58zM2023.60,1127.10h2.58v2.64h-2.58zM2028.77,1127.10h2.58v2.64h-2.58zM2041.69,1127.10h2.58v2.64h-2.58zM2049.45,1127.10h2.58v2.64h-2.58zM2054.62,1127.10h2.58v2.64h-2.58zM1971.90,1129.69h7.75v2.64h-7.75zM1982.24,1129.69h5.17v2.64h-5.17zM1995.16,1129.69h5.17v2.64h-5.17zM2005.50,1129.69h2.58v2.64h-2.58zM2010.67,1129.69h15.51v2.64h-15.51zM2031.35,1129.69h5.17v2.64h-5.17zM2039.11,1129.69h2.58v2.64h-2.58zM2046.86,1129.69h2.58v2.64h-2.58zM2052.03,1129.69h5.17v2.64h-5.17zM1982.24,1132.28h20.68v2.64h-20.68zM2010.67,1132.28h7.75v2.64h-7.75zM2021.01,1132.28h2.58v2.64h-2.58zM2026.18,1132.28h2.58v2.64h-2.58zM2031.35,1132.28h10.34v2.64h-10.34zM2046.86,1132.28h5.17v2.64h-5.17zM2054.62,1132.28h2.58v2.64h-2.58zM1971.90,1134.87h5.17v2.64h-5.17zM1979.65,1134.87h2.58v2.64h-2.58zM1989.99,1134.87h5.17v2.64h-5.17zM2005.50,1134.87h2.58v2.64h-2.58zM2010.67,1134.87h2.58v2.64h-2.58zM2018.43,1134.87h7.75v2.64h-7.75zM2039.11,1134.87h10.34v2.64h-10.34zM2052.03,1134.87h5.17v2.64h-5.17zM1974.48,1137.45h7.75v2.64h-7.75zM1987.41,1137.45h5.17v2.64h-5.17zM1995.16,1137.45h2.58v2.64h-2.58zM2000.33,1137.45h2.58v2.64h-2.58zM2005.50,1137.45h2.58v2.64h-2.58zM2010.67,1137.45h2.58v2.64h-2.58zM2021.01,1137.45h7.75v2.64h-7.75zM2033.94,1137.45h10.34v2.64h-10.34zM2052.03,1137.45h5.17v2.64h-5.17zM1982.24,1140.04h5.17v2.64h-5.17zM1989.99,1140.04h2.58v2.64h-2.58zM1997.75,1140.04h7.75v2.64h-7.75zM2023.60,1140.04h5.17v2.64h-5.17zM2031.35,1140.04h5.17v2.64h-5.17zM2039.11,1140.04h5.17v2.64h-5.17zM2052.03,1140.04h5.17v2.64h-5.17zM1971.90,1142.63h2.58v2.64h-2.58zM1977.07,1142.63h2.58v2.64h-2.58zM1984.82,1142.63h10.34v2.64h-10.34zM2000.33,1142.63h2.58v2.64h-2.58zM2005.50,1142.63h2.58v2.64h-2.58zM2010.67,1142.63h2.58v2.64h-2.58zM2015.84,1142.63h2.58v2.64h-2.58zM2021.01,1142.63h5.17v2.64h-5.17zM2031.35,1142.63h2.58v2.64h-2.58zM2046.86,1142.63h5.17v2.64h-5.17zM2054.62,1142.63h2.58v2.64h-2.58zM1971.90,1145.22h2.58v2.64h-2.58zM1977.07,1145.22h7.75v2.64h-7.75zM1989.99,1145.22h2.58v2.64h-2.58zM1995.16,1145.22h2.58v2.64h-2.58zM2000.33,1145.22h2.58v2.64h-2.58zM2005.50,1145.22h5.17v2.64h-5.17zM2023.60,1145.22h2.58v2.64h-2.58zM2036.52,1145.22h10.34v2.64h-10.34zM1984.82,1147.81h5.17v2.64h-5.17zM2005.50,1147.81h2.58v2.64h-2.58zM2010.67,1147.81h2.58v2.64h-2.58zM2023.60,1147.81h2.58v2.64h-2.58zM2033.94,1147.81h2.58v2.64h-2.58zM2039.11,1147.81h5.17v2.64h-5.17zM2046.86,1147.81h2.58v2.64h-2.58zM2052.03,1147.81h2.58v2.64h-2.58zM1971.90,1150.39h10.34v2.64h-10.34zM1989.99,1150.39h5.17v2.64h-5.17zM1997.75,1150.39h18.09v2.64h-18.09zM2021.01,1150.39h7.75v2.64h-7.75zM2031.35,1150.39h5.17v2.64h-5.17zM2039.11,1150.39h2.58v2.64h-2.58zM2046.86,1150.39h2.58v2.64h-2.58zM2054.62,1150.39h2.58v2.64h-2.58zM1982.24,1152.98h2.58v2.64h-2.58zM1987.41,1152.98h2.58v2.64h-2.58zM1992.58,1152.98h7.75v2.64h-7.75zM2010.67,1152.98h2.58v2.64h-2.58zM2015.84,1152.98h2.58v2.64h-2.58zM2021.01,1152.98h2.58v2.64h-2.58zM2026.18,1152.98h10.34v2.64h-10.34zM2041.69,1152.98h2.58v2.64h-2.58zM2046.86,1152.98h5.17v2.64h-5.17zM2054.62,1152.98h2.58v2.64h-2.58zM1997.75,1155.57h5.17v2.64h-5.17zM2008.09,1155.57h2.58v2.64h-2.58zM2013.26,1155.57h2.58v2.64h-2.58zM2021.01,1155.57h5.17v2.64h-5.17zM2028.77,1155.57h2.58v2.64h-2.58zM2033.94,1155.57h7.75v2.64h-7.75zM2044.28,1155.57h5.17v2.64h-5.17zM2052.03,1155.57h5.17v2.64h-5.17zM1971.90,1158.16h5.17v2.64h-5.17zM1982.24,1158.16h2.58v2.64h-2.58zM1987.41,1158.16h10.34v2.64h-10.34zM2002.92,1158.16h2.58v2.64h-2.58zM2008.09,1158.16h12.92v2.64h-12.92zM2023.60,1158.16h5.17v2.64h-5.17zM2031.35,1158.16h5.17v2.64h-5.17zM2039.11,1158.16h5.17v2.64h-5.17zM1974.48,1160.75h12.92v2.64h-12.92zM1992.58,1160.75h2.58v2.64h-2.58zM2000.33,1160.75h5.17v2.64h-5.17zM2013.26,1160.75h2.58v2.64h-2.58zM2023.60,1160.75h2.58v2.64h-2.58zM2028.77,1160.75h7.75v2.64h-7.75zM2039.11,1160.75h5.17v2.64h-5.17zM2046.86,1160.75h5.17v2.64h-5.17zM2054.62,1160.75h2.58v2.64h-2.58zM1971.90,1163.33h5.17v2.64h-5.17zM1979.65,1163.33h10.34v2.64h-10.34zM1992.58,1163.33h2.58v2.64h-2.58zM1997.75,1163.33h2.58v2.64h-2.58zM2002.92,1163.33h2.58v2.64h-2.58zM2013.26,1163.33h5.17v2.64h-5.17zM2021.01,1163.33h2.58v2.64h-2.58zM2028.77,1163.33h5.17v2.64h-5.17zM2039.11,1163.33h7.75v2.64h-7.75zM2054.62,1163.33h2.58v2.64h-2.58zM1979.65,1165.92h2.58v2.64h-2.58zM1984.82,1165.92h2.58v2.64h-2.58zM1997.75,1165.92h2.58v2.64h-2.58zM2010.67,1165.92h5.17v2.64h-5.17zM2018.43,1165.92h2.58v2.64h-2.58zM2028.77,1165.92h2.58v2.64h-2.58zM2036.52,1165.92h12.92v2.64h-12.92zM2052.03,1165.92h5.17v2.64h-5.17zM1971.90,1168.51h7.75v2.64h-7.75zM1982.24,1168.51h10.34v2.64h-10.34zM2000.33,1168.51h7.75v2.64h-7.75zM2013.26,1168.51h2.58v2.64h-2.58zM2023.60,1168.51h2.58v2.64h-2.58zM2031.35,1168.51h18.09v2.64h-18.09zM2054.62,1168.51h2.58v2.64h-2.58zM1992.58,1171.10h10.34v2.64h-10.34zM2010.67,1171.10h7.75v2.64h-7.75zM2021.01,1171.10h2.58v2.64h-2.58zM2031.35,1171.10h5.17v2.64h-5.17zM2044.28,1171.10h2.58v2.64h-2.58zM2054.62,1171.10h2.58v2.64h-2.58zM1971.90,1173.68h18.09v2.64h-18.09zM1992.58,1173.68h5.17v2.64h-5.17zM2002.92,1173.68h2.58v2.64h-2.58zM2008.09,1173.68h5.17v2.64h-5.17zM2021.01,1173.68h2.58v2.64h-2.58zM2028.77,1173.68h2.58v2.64h-2.58zM2033.94,1173.68h2.58v2.64h-2.58zM2039.11,1173.68h2.58v2.64h-2.58zM2044.28,1173.68h7.75v2.64h-7.75zM2054.62,1173.68h2.58v2.64h-2.58zM1971.90,1176.27h2.58v2.64h-2.58zM1987.41,1176.27h2.58v2.64h-2.58zM1995.16,1176.27h5.17v2.64h-5.17zM2008.09,1176.27h10.34v2.64h-10.34zM2023.60,1176.27h2.58v2.64h-2.58zM2028.77,1176.27h7.75v2.64h-7.75zM2044.28,1176.27h5.17v2.64h-5.17zM2052.03,1176.27h5.17v2.64h-5.17zM1971.90,1178.86h2.58v2.64h-2.58zM1977.07,1178.86h7.75v2.64h-7.75zM1987.41,1178.86h2.58v2.64h-2.58zM1995.16,1178.86h2.58v2.64h-2.58zM2008.09,1178.86h5.17v2.64h-5.17zM2015.84,1178.86h2.58v2.64h-2.58zM2023.60,1178.86h5.17v2.64h-5.17zM2031.35,1178.86h15.51v2.64h-15.51zM1971.90,1181.45h2.58v2.64h-2.58zM1977.07,1181.45h7.75v2.64h-7.75zM1987.41,1181.45h2.58v2.64h-2.58zM2000.33,1181.45h2.58v2.64h-2.58zM2005.50,1181.45h5.17v2.64h-5.17zM2015.84,1181.45h2.58v2.64h-2.58zM2023.60,1181.45h10.34v2.64h-10.34zM2036.52,1181.45h2.58v2.64h-2.58zM2041.69,1181.45h5.17v2.64h-5.17zM2052.03,1181.45h5.17v2.64h-5.17zM1971.90,1184.04h2.58v2.64h-2.58zM1977.07,1184.04h7.75v2.64h-7.75zM1987.41,1184.04h2.58v2.64h-2.58zM1992.58,1184.04h20.68v2.64h-20.68zM2015.84,1184.04h10.34v2.64h-10.34zM2031.35,1184.04h2.58v2.64h-2.58zM2036.52,1184.04h2.58v2.64h-2.58zM2041.69,1184.04h7.75v2.64h-7.75zM2052.03,1184.04h5.17v2.64h-5.17zM1971.90,1186.62h2.58v2.64h-2.58zM1987.41,1186.62h2.58v2.64h-2.58zM1995.16,1186.62h2.58v2.64h-2.58zM2000.33,1186.62h5.17v2.64h-5.17zM2018.43,1186.62h2.58v2.64h-2.58zM2023.60,1186.62h2.58v2.64h-2.58zM2028.77,1186.62h2.58v2.64h-2.58zM2033.94,1186.62h15.51v2.64h-15.51zM1971.90,1189.21h18.09v2.64h-18.09zM1992.58,1189.21h5.17v2.64h-5.17zM2000.33,1189.21h2.58v2.64h-2.58zM2005.50,1189.21h2.58v2.64h-2.58zM2010.67,1189.21h5.17v2.64h-5.17zM2021.01,1189.21h5.17v2.64h-5.17zM2033.94,1189.21h2.58v2.64h-2.58zM2039.11,1189.21h10.34v2.64h-10.34zM2054.62,1189.21h2.58v2.64h-2.58z" fill="#000"/>
<rect x="917.90" y="1246.10" width="14.20" height="46.00" fill="#000" />
<rect x="935.70" y="1260.30" width="14.10" height="31.80" fill="#000" />
<circle cx="959.30" cy="1286.00" r="7.70" fill="#000" />
<path d="M967.2,1260.3 H981.2 V1279.6 a2.1,2.1 0 0 0 4.2,0 V1260.3 H999.6 V1277 a16.2,16.2 0 0 1 -32.4,0 z" fill="#000"/>
<text x="1006.33" y="1273.70" font-size="18.4" font-family="'Liberation Sans', sans-serif" fill="#111" textLength="84.02" lengthAdjust="spacingAndGlyphs" >LINKÖPING</text>
<text x="1006.42" y="1292.10" font-size="18.4" font-family="'Liberation Sans', sans-serif" fill="#111" textLength="91.61" lengthAdjust="spacingAndGlyphs" >UNIVERSITY</text>
<text x="1165.57" y="1265.60" font-size="26.6" font-family="'Liberation Sans', sans-serif" fill="#231f20" textLength="182.76" lengthAdjust="spacingAndGlyphs" stroke="#231f20" stroke-width="1.15">Imperial College</text>
<text x="1165.61" y="1292.00" font-size="26.6" font-family="'Liberation Sans', sans-serif" fill="#231f20" textLength="93.21" lengthAdjust="spacingAndGlyphs" stroke="#231f20" stroke-width="1.15">London</text>
<path d="M1415.4,1294.3 V1246.3 H1450.5 V1294.3 H1441.2 V1273.7 H1424.7 V1294.3 z M1424.7,1255.6 V1264.1 H1441.2 V1255.6 z" fill="#13a8b0" fill-rule="evenodd"/>
<path d="M1441.2,1264.1 H1450.5 V1273.7 H1459 V1264.1 H1468.4 V1294.3 H1459 V1283.1 H1441.2 z" fill="#0d6468"/>
<rect x="1459.00" y="1246.30" width="9.40" height="9.30" fill="#0d6468" />
<text x="1469.09" y="1293.80" font-size="35" font-family="'Liberation Sans', sans-serif" font-weight="bold" fill="#4d4d4f" textLength="84.14" lengthAdjust="spacingAndGlyphs" >ealth</text>
<path d="M1609.1,1246.1 H1641.9 V1284 H1651.9 V1246.1 H1695.2 V1291.9 H1687.1 V1254.2 H1677.6 V1291.9 H1669.4 V1254.2 H1659.8 V1291.9 H1634.1 V1254.2 H1624.4 V1291.9 H1617.4 V1254.2 H1609.1 z" fill="#0071bd"/>
<text x="1753.27" y="1291.40" font-size="61.5" font-family="'Liberation Sans', sans-serif" fill="#4285f4" textLength="51.47" lengthAdjust="spacingAndGlyphs" stroke="#4285f4" stroke-width="1.5">G</text>
<text x="1801.21" y="1291.40" font-size="54.5" font-family="'Liberation Sans', sans-serif" fill="#ea4335" textLength="32.98" lengthAdjust="spacingAndGlyphs" stroke="#ea4335" stroke-width="1.5">o</text>
<text x="1833.27" y="1291.40" font-size="54.5" font-family="'Liberation Sans', sans-serif" fill="#fbbc05" textLength="33.45" lengthAdjust="spacingAndGlyphs" stroke="#fbbc05" stroke-width="1.5">o</text>
<text x="1865.78" y="1291.40" font-size="54.5" font-family="'Liberation Sans', sans-serif" fill="#4285f4" textLength="33.39" lengthAdjust="spacingAndGlyphs" stroke="#4285f4" stroke-width="1.5">g</text>
<text x="1896.48" y="1291.00" font-size="58.5" font-family="'Liberation Sans', sans-serif" fill="#34a853" textLength="13.90" lengthAdjust="spacingAndGlyphs" stroke="#34a853" stroke-width="0.8">l</text>
<text x="1908.24" y="1291.40" font-size="54.5" font-family="'Liberation Sans', sans-serif" fill="#ea4335" textLength="30.93" lengthAdjust="spacingAndGlyphs" stroke="#ea4335" stroke-width="1.5">e</text>
<text x="1951.39" y="1291.00" font-size="56" font-family="'Liberation Sans', sans-serif" fill="#5f6368" textLength="219.54" lengthAdjust="spacingAndGlyphs" stroke="#5f6368" stroke-width="0.7">Research</text>
</svg></body></html>
